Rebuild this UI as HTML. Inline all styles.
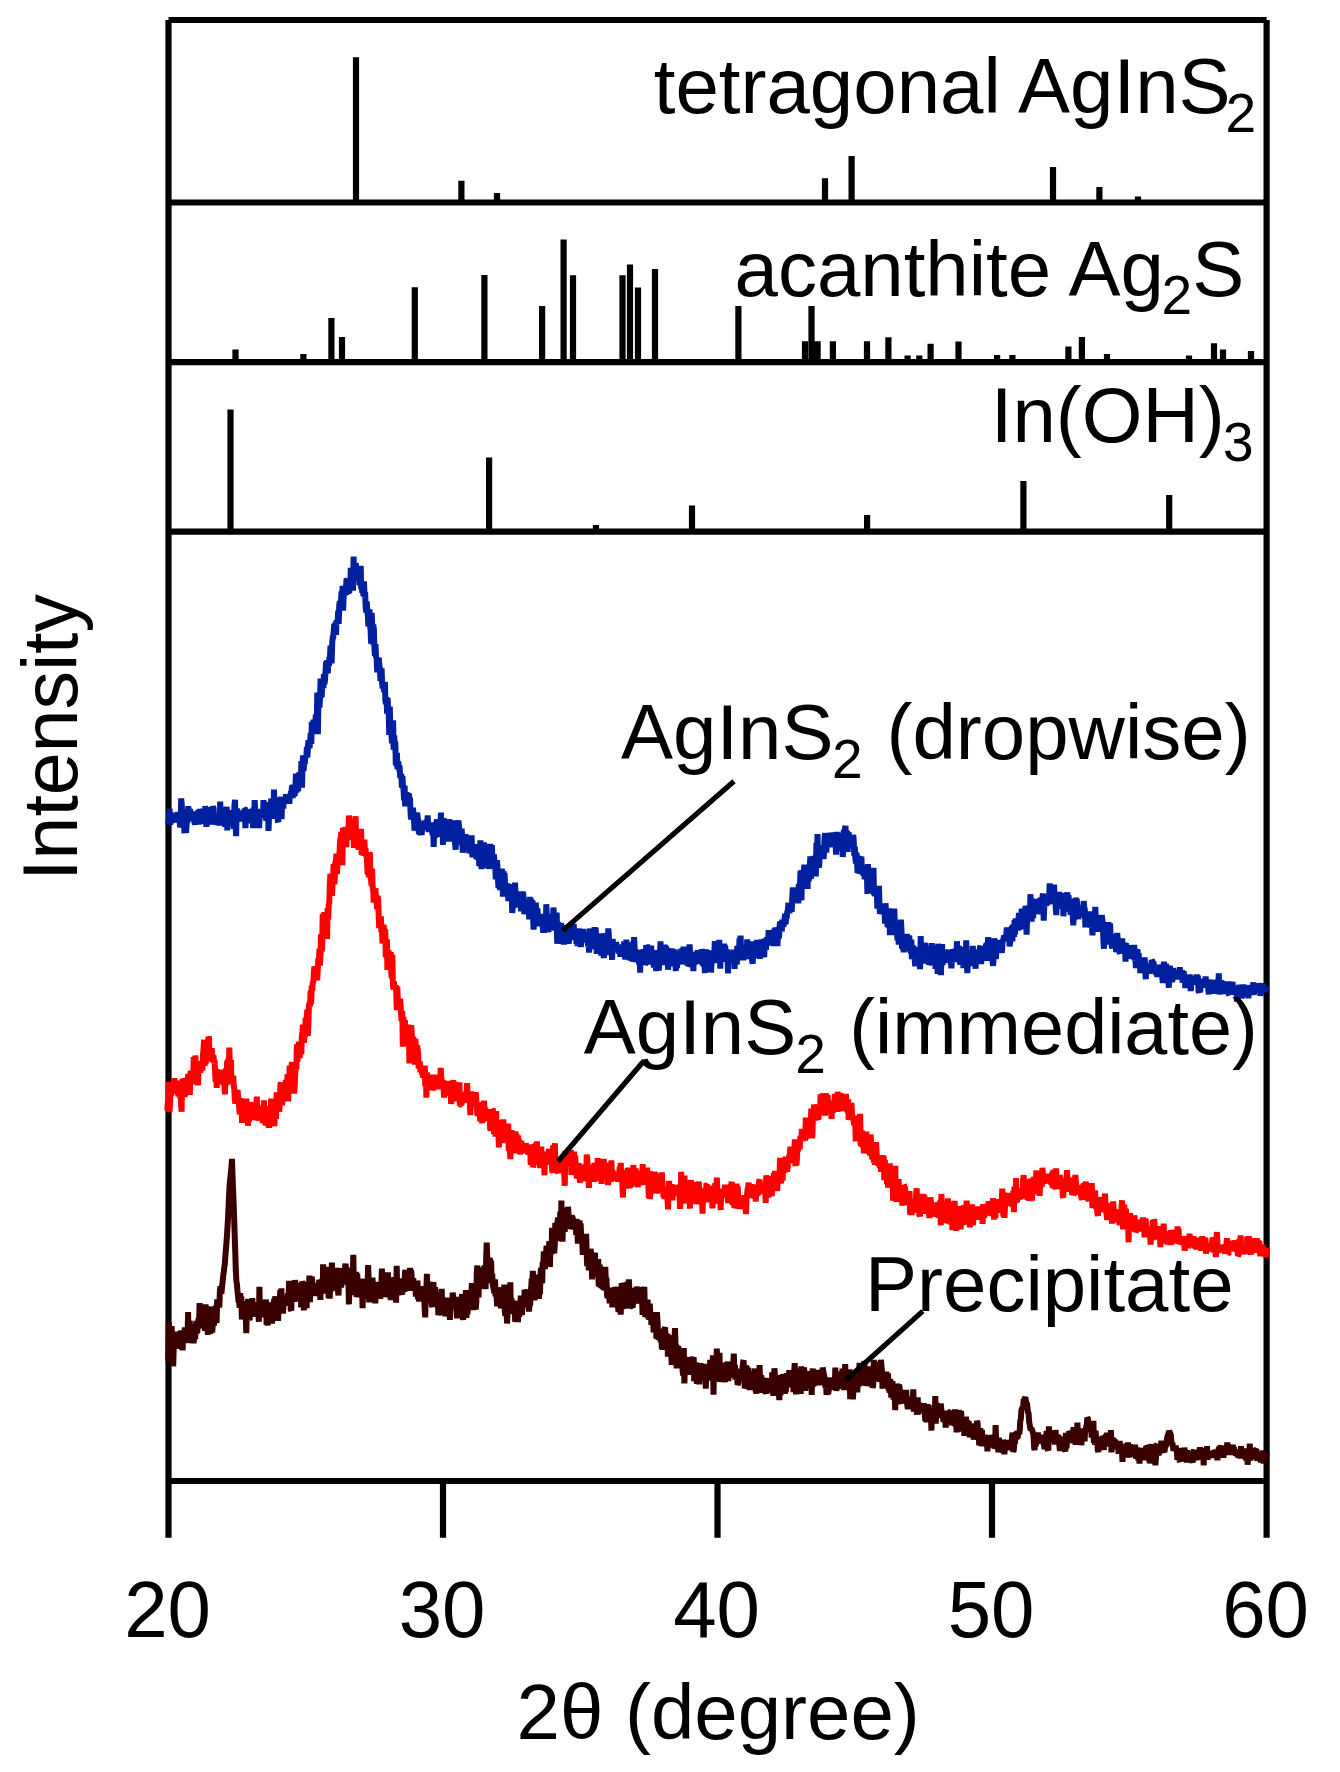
<!DOCTYPE html>
<html><head><meta charset="utf-8"><title>XRD</title>
<style>html,body{margin:0;padding:0;background:#fff;}svg{display:block;}</style>
</head><body>
<svg width="1340" height="1772" viewBox="0 0 1340 1772">
<rect width="1340" height="1772" fill="#fff"/>
<path d="M168.5,20 H1266.6 M165.4,202.5 H1269.7 M165.4,362.1 H1269.7 M165.4,531.7 H1269.7 M165.4,1481 H1269.7 M168.5,20 V1537.8 M1266.6,20 V1537.8 M443.0,1481 V1537.8 M717.5,1481 V1537.8 M992.0,1481 V1537.8" stroke="#000" stroke-width="6.2" fill="none"/>
<path d="M356.0,202.5 V57.2 M461.4,202.5 V180.7 M497.0,202.5 V193.0 M825.0,202.5 V178.2 M851.6,202.5 V156.1 M1053.0,202.5 V166.9 M1099.4,202.5 V187.0 M1138.0,202.5 V196.4 M235.5,362.1 V349.4 M303.4,362.1 V353.9 M331.4,362.1 V318.0 M342.0,362.1 V336.9 M414.8,362.1 V287.2 M484.4,362.1 V274.9 M542.1,362.1 V306.1 M563.6,362.1 V239.4 M573.0,362.1 V275.2 M622.5,362.1 V275.2 M630.0,362.1 V264.5 M638.0,362.1 V287.5 M655.0,362.1 V269.0 M738.4,362.1 V306.1 M805.0,362.1 V341.3 M811.5,362.1 V305.9 M817.6,362.1 V341.3 M832.9,362.1 V341.3 M867.0,362.1 V341.3 M888.4,362.1 V337.2 M907.6,362.1 V355.4 M919.3,362.1 V355.4 M930.6,362.1 V343.7 M958.5,362.1 V341.4 M997.1,362.1 V355.1 M1012.4,362.1 V355.1 M1068.4,362.1 V346.4 M1081.9,362.1 V336.9 M1107.0,362.1 V354.1 M1189.0,362.1 V355.4 M1214.0,362.1 V343.3 M1223.0,362.1 V349.4 M1251.0,362.1 V351.0 M230.5,531.7 V409.6 M489.1,531.7 V457.5 M595.9,531.7 V525.0 M692.0,531.7 V505.4 M867.1,531.7 V515.1 M1023.4,531.7 V481.0 M1169.2,531.7 V494.9" stroke="#000" stroke-width="6.2" fill="none"/>
<g fill="none" stroke-width="6" stroke-linejoin="miter" stroke-miterlimit="1.5" stroke-linecap="butt">
<path d="M168.0,820.5 L168.5,824.0 L169.1,820.4 L169.6,808.6 L170.2,824.6 L170.7,821.2 L171.3,814.1 L171.8,822.2 L172.4,820.6 L172.9,820.1 L173.5,818.2 L174.0,822.0 L174.6,812.7 L175.1,816.8 L175.7,814.5 L176.2,822.3 L176.8,818.3 L177.3,815.9 L177.9,812.3 L178.4,816.1 L179.0,818.1 L179.5,816.0 L180.1,827.4 L180.6,825.3 L181.2,798.4 L181.7,804.3 L182.3,816.7 L182.8,814.9 L183.4,819.5 L183.9,819.6 L184.5,833.3 L185.0,809.9 L185.6,815.3 L186.1,832.8 L186.7,822.7 L187.2,822.8 L187.8,814.3 L188.3,806.1 L188.9,819.2 L189.4,818.8 L190.0,809.1 L190.5,813.1 L191.1,817.5 L191.6,811.2 L192.2,817.3 L192.7,818.7 L193.3,818.3 L193.8,814.3 L194.4,822.3 L194.9,824.5 L195.5,820.3 L196.0,812.1 L196.5,823.3 L197.1,814.4 L197.6,824.4 L198.2,810.2 L198.7,824.6 L199.3,817.9 L199.8,809.0 L200.4,815.7 L200.9,818.4 L201.5,820.0 L202.0,810.9 L202.6,810.0 L203.1,819.4 L203.7,814.6 L204.2,819.7 L204.8,823.5 L205.3,806.0 L205.9,819.8 L206.4,826.8 L207.0,815.8 L207.5,812.1 L208.1,823.4 L208.6,819.7 L209.2,824.4 L209.7,815.4 L210.3,807.2 L210.8,817.1 L211.4,814.7 L211.9,823.5 L212.5,819.3 L213.0,806.1 L213.6,809.2 L214.1,824.3 L214.7,822.8 L215.2,813.2 L215.8,817.8 L216.3,821.1 L216.9,821.2 L217.4,824.2 L218.0,819.7 L218.5,817.1 L219.1,815.9 L219.6,825.5 L220.2,801.5 L220.7,816.8 L221.3,818.0 L221.8,807.5 L222.4,820.2 L222.9,813.1 L223.4,824.0 L224.0,816.9 L224.5,822.6 L225.1,826.6 L225.6,820.5 L226.2,811.4 L226.7,806.8 L227.3,830.4 L227.8,816.9 L228.4,812.7 L228.9,818.8 L229.5,816.3 L230.0,823.9 L230.6,817.9 L231.1,817.8 L231.7,812.5 L232.2,821.1 L232.8,810.2 L233.3,822.5 L233.9,828.7 L234.4,806.6 L235.0,799.8 L235.5,822.1 L236.1,836.1 L236.6,810.4 L237.2,808.6 L237.7,821.9 L238.3,811.5 L238.8,813.9 L239.4,815.1 L239.9,821.5 L240.5,814.7 L241.0,819.6 L241.6,816.3 L242.1,811.5 L242.7,815.3 L243.2,810.7 L243.8,817.6 L244.3,809.4 L244.9,809.6 L245.4,828.1 L246.0,817.2 L246.5,817.1 L247.1,821.2 L247.6,814.5 L248.2,815.9 L248.7,820.6 L249.3,819.6 L249.8,809.1 L250.4,823.4 L250.9,812.9 L251.4,809.3 L252.0,810.2 L252.5,813.7 L253.1,828.1 L253.6,807.5 L254.2,817.0 L254.7,800.1 L255.3,815.4 L255.8,821.7 L256.4,813.2 L256.9,810.2 L257.5,816.2 L258.0,819.4 L258.6,818.9 L259.1,828.1 L259.7,815.1 L260.2,809.1 L260.8,812.3 L261.3,812.4 L261.9,813.5 L262.4,812.3 L263.0,813.6 L263.5,800.0 L264.1,817.9 L264.6,807.5 L265.2,803.0 L265.7,815.9 L266.3,820.7 L266.8,814.6 L267.4,812.1 L267.9,804.0 L268.5,830.9 L269.0,816.9 L269.6,802.1 L270.1,804.6 L270.7,810.7 L271.2,798.7 L271.8,811.0 L272.3,806.3 L272.9,818.4 L273.4,816.4 L274.0,789.6 L274.5,809.4 L275.1,797.3 L275.6,816.7 L276.2,809.6 L276.7,812.1 L277.3,800.2 L277.8,820.8 L278.3,822.0 L278.9,799.3 L279.4,809.5 L280.0,801.6 L280.5,806.1 L281.1,796.8 L281.6,819.2 L282.2,798.4 L282.7,803.0 L283.3,808.5 L283.8,799.9 L284.4,802.6 L284.9,799.9 L285.5,802.4 L286.0,794.2 L286.6,798.8 L287.1,799.8 L287.7,798.1 L288.2,800.3 L288.8,797.0 L289.3,803.9 L289.9,795.4 L290.4,796.0 L291.0,791.4 L291.5,791.7 L292.1,785.5 L292.6,798.0 L293.2,784.7 L293.7,786.9 L294.3,794.5 L294.8,794.1 L295.4,787.1 L295.9,773.7 L296.5,791.9 L297.0,789.9 L297.6,775.8 L298.1,791.4 L298.7,777.8 L299.2,772.5 L299.8,780.6 L300.3,776.5 L300.9,777.8 L301.4,761.0 L302.0,787.6 L302.5,765.5 L303.1,755.4 L303.6,771.4 L304.2,761.0 L304.7,764.6 L305.3,756.7 L305.8,756.9 L306.3,757.4 L306.9,747.0 L307.4,757.4 L308.0,745.6 L308.5,740.4 L309.1,746.7 L309.6,748.0 L310.2,740.3 L310.7,733.0 L311.3,744.0 L311.8,721.7 L312.4,726.1 L312.9,733.6 L313.5,719.7 L314.0,729.9 L314.6,727.3 L315.1,733.8 L315.7,716.3 L316.2,715.6 L316.8,720.2 L317.3,692.5 L317.9,734.3 L318.4,700.7 L319.0,697.2 L319.5,707.7 L320.1,696.7 L320.6,678.5 L321.2,696.7 L321.7,696.8 L322.3,683.7 L322.8,683.3 L323.4,688.1 L323.9,674.2 L324.5,684.0 L325.0,680.1 L325.6,670.7 L326.1,661.6 L326.7,668.7 L327.2,660.1 L327.8,673.3 L328.3,662.9 L328.9,665.9 L329.4,658.1 L330.0,657.0 L330.5,645.7 L331.1,656.0 L331.6,663.4 L332.2,643.1 L332.7,637.4 L333.2,637.1 L333.8,630.1 L334.3,624.1 L334.9,628.5 L335.4,622.5 L336.0,635.0 L336.5,620.3 L337.1,620.7 L337.6,623.8 L338.2,610.6 L338.7,624.0 L339.3,604.5 L339.8,601.3 L340.4,603.5 L340.9,604.1 L341.5,591.3 L342.0,601.5 L342.6,585.8 L343.1,610.5 L343.7,596.2 L344.2,589.9 L344.8,586.1 L345.3,589.2 L345.9,589.1 L346.4,580.5 L347.0,580.1 L347.5,585.2 L348.1,581.1 L348.6,592.5 L349.2,592.9 L349.7,582.0 L350.3,584.7 L350.8,567.9 L351.4,584.1 L351.9,577.7 L352.5,581.6 L353.0,590.6 L353.6,556.5 L354.1,577.8 L354.7,565.5 L355.2,579.4 L355.8,562.9 L356.3,570.4 L356.9,577.0 L357.4,581.0 L358.0,576.8 L358.5,569.8 L359.1,572.4 L359.6,585.3 L360.2,578.4 L360.7,565.7 L361.2,589.2 L361.8,587.2 L362.3,592.8 L362.9,584.1 L363.4,595.9 L364.0,581.3 L364.5,597.2 L365.1,591.9 L365.6,605.9 L366.2,612.6 L366.7,601.5 L367.3,611.3 L367.8,614.7 L368.4,626.4 L368.9,624.1 L369.5,609.3 L370.0,625.7 L370.6,630.0 L371.1,643.7 L371.7,612.8 L372.2,624.6 L372.8,644.3 L373.3,624.7 L373.9,629.7 L374.4,648.1 L375.0,655.7 L375.5,644.2 L376.1,657.8 L376.6,657.2 L377.2,672.4 L377.7,661.7 L378.3,672.1 L378.8,657.7 L379.4,665.8 L379.9,668.4 L380.5,680.9 L381.0,678.0 L381.6,668.4 L382.1,683.2 L382.7,688.3 L383.2,685.0 L383.8,688.1 L384.3,692.0 L384.9,681.8 L385.4,700.8 L386.0,703.9 L386.5,697.1 L387.1,713.7 L387.6,698.1 L388.1,707.8 L388.7,711.1 L389.2,734.9 L389.8,706.6 L390.3,727.9 L390.9,734.4 L391.4,733.0 L392.0,743.4 L392.5,728.1 L393.1,720.4 L393.6,749.6 L394.2,735.5 L394.7,745.9 L395.3,741.5 L395.8,763.6 L396.4,764.4 L396.9,752.9 L397.5,769.1 L398.0,764.6 L398.6,764.5 L399.1,768.4 L399.7,768.4 L400.2,777.6 L400.8,777.3 L401.3,773.9 L401.9,787.7 L402.4,776.2 L403.0,786.0 L403.5,789.4 L404.1,800.4 L404.6,785.7 L405.2,806.4 L405.7,795.3 L406.3,794.3 L406.8,792.3 L407.4,804.6 L407.9,802.2 L408.5,794.3 L409.0,795.1 L409.6,800.8 L410.1,800.8 L410.7,815.9 L411.2,819.2 L411.8,816.1 L412.3,813.0 L412.9,807.8 L413.4,812.6 L414.0,820.0 L414.5,830.7 L415.1,822.2 L415.6,813.9 L416.1,817.4 L416.7,814.4 L417.2,812.9 L417.8,817.9 L418.3,821.3 L418.9,834.2 L419.4,821.2 L420.0,831.5 L420.5,835.1 L421.1,823.0 L421.6,834.9 L422.2,828.7 L422.7,820.8 L423.3,826.4 L423.8,825.1 L424.4,823.7 L424.9,824.5 L425.5,827.2 L426.0,829.5 L426.6,819.8 L427.1,826.4 L427.7,815.3 L428.2,828.7 L428.8,831.5 L429.3,828.2 L429.9,829.3 L430.4,831.7 L431.0,822.4 L431.5,825.7 L432.1,831.4 L432.6,835.2 L433.2,830.8 L433.7,847.0 L434.3,827.4 L434.8,835.5 L435.4,837.6 L435.9,827.2 L436.5,822.1 L437.0,819.5 L437.6,829.5 L438.1,836.6 L438.7,830.4 L439.2,829.7 L439.8,825.7 L440.3,832.7 L440.9,812.7 L441.4,830.3 L442.0,828.9 L442.5,818.5 L443.0,844.9 L443.6,818.5 L444.1,820.8 L444.7,820.0 L445.2,837.1 L445.8,822.4 L446.3,834.0 L446.9,833.4 L447.4,831.0 L448.0,819.4 L448.5,824.6 L449.1,841.6 L449.6,819.7 L450.2,823.1 L450.7,828.1 L451.3,835.4 L451.8,831.5 L452.4,835.6 L452.9,822.7 L453.5,838.0 L454.0,835.7 L454.6,820.2 L455.1,843.8 L455.7,849.8 L456.2,827.6 L456.8,834.2 L457.3,844.5 L457.9,823.8 L458.4,820.5 L459.0,826.0 L459.5,831.9 L460.1,832.2 L460.6,841.4 L461.2,839.4 L461.7,828.7 L462.3,842.5 L462.8,852.6 L463.4,848.1 L463.9,847.0 L464.5,840.3 L465.0,847.9 L465.6,834.0 L466.1,847.1 L466.7,841.4 L467.2,850.8 L467.8,846.4 L468.3,835.4 L468.9,844.9 L469.4,853.3 L470.0,836.6 L470.5,841.2 L471.0,840.2 L471.6,835.3 L472.1,853.8 L472.7,856.9 L473.2,853.6 L473.8,850.0 L474.3,848.3 L474.9,850.9 L475.4,844.2 L476.0,856.6 L476.5,858.2 L477.1,857.9 L477.6,847.6 L478.2,852.6 L478.7,851.3 L479.3,866.2 L479.8,854.9 L480.4,840.3 L480.9,857.6 L481.5,869.0 L482.0,860.8 L482.6,862.7 L483.1,857.1 L483.7,842.9 L484.2,844.7 L484.8,849.3 L485.3,858.1 L485.9,861.8 L486.4,865.1 L487.0,858.1 L487.5,868.1 L488.1,859.6 L488.6,857.1 L489.2,869.0 L489.7,856.6 L490.3,843.9 L490.8,856.6 L491.4,865.6 L491.9,845.0 L492.5,863.4 L493.0,864.1 L493.6,856.7 L494.1,856.8 L494.7,865.1 L495.2,865.3 L495.8,879.3 L496.3,873.7 L496.9,860.2 L497.4,866.3 L497.9,878.5 L498.5,888.0 L499.0,877.8 L499.6,878.1 L500.1,890.2 L500.7,877.3 L501.2,876.0 L501.8,868.8 L502.3,876.2 L502.9,896.6 L503.4,871.2 L504.0,882.5 L504.5,873.0 L505.1,884.9 L505.6,891.3 L506.2,883.9 L506.7,891.8 L507.3,892.5 L507.8,891.2 L508.4,901.1 L508.9,894.9 L509.5,887.7 L510.0,885.6 L510.6,885.0 L511.1,895.3 L511.7,890.1 L512.2,912.9 L512.8,907.1 L513.3,892.8 L513.9,892.6 L514.4,907.9 L515.0,882.6 L515.5,893.7 L516.1,904.4 L516.6,891.6 L517.2,895.4 L517.7,896.9 L518.3,904.9 L518.8,901.7 L519.4,904.3 L519.9,906.3 L520.5,902.9 L521.0,911.3 L521.6,898.6 L522.1,894.1 L522.7,892.2 L523.2,893.9 L523.8,902.2 L524.3,914.2 L524.9,908.6 L525.4,903.6 L525.9,900.8 L526.5,905.3 L527.0,906.8 L527.6,906.2 L528.1,900.5 L528.7,908.0 L529.2,919.3 L529.8,896.9 L530.3,911.4 L530.9,898.4 L531.4,915.6 L532.0,909.5 L532.5,900.4 L533.1,916.8 L533.6,929.7 L534.2,917.9 L534.7,925.8 L535.3,917.2 L535.8,902.5 L536.4,921.8 L536.9,915.6 L537.5,908.4 L538.0,924.9 L538.6,921.6 L539.1,916.1 L539.7,926.4 L540.2,914.2 L540.8,925.4 L541.3,914.3 L541.9,925.2 L542.4,913.8 L543.0,932.7 L543.5,924.1 L544.1,932.9 L544.6,917.0 L545.2,919.8 L545.7,929.5 L546.3,904.2 L546.8,916.5 L547.4,931.8 L547.9,928.1 L548.5,932.0 L549.0,923.1 L549.6,929.7 L550.1,920.7 L550.7,916.4 L551.2,914.4 L551.8,922.9 L552.3,923.2 L552.8,922.9 L553.4,907.6 L553.9,913.6 L554.5,924.3 L555.0,930.4 L555.6,924.5 L556.1,922.6 L556.7,912.6 L557.2,943.8 L557.8,921.7 L558.3,941.8 L558.9,941.2 L559.4,932.3 L560.0,926.5 L560.5,931.7 L561.1,922.8 L561.6,933.1 L562.2,931.5 L562.7,935.6 L563.3,938.8 L563.8,944.6 L564.4,929.7 L564.9,940.2 L565.5,927.4 L566.0,926.9 L566.6,929.1 L567.1,926.7 L567.7,940.9 L568.2,940.8 L568.8,943.5 L569.3,934.5 L569.9,936.9 L570.4,931.0 L571.0,927.1 L571.5,938.7 L572.1,937.6 L572.6,928.0 L573.2,940.2 L573.7,923.8 L574.3,935.1 L574.8,932.0 L575.4,932.9 L575.9,929.2 L576.5,943.8 L577.0,941.2 L577.6,945.8 L578.1,938.5 L578.7,928.5 L579.2,935.2 L579.8,929.6 L580.3,941.4 L580.8,946.9 L581.4,940.8 L581.9,934.4 L582.5,936.2 L583.0,940.5 L583.6,928.9 L584.1,940.4 L584.7,940.9 L585.2,935.8 L585.8,936.9 L586.3,941.2 L586.9,934.4 L587.4,934.6 L588.0,946.0 L588.5,942.3 L589.1,952.7 L589.6,934.1 L590.2,928.6 L590.7,948.0 L591.3,948.3 L591.8,936.5 L592.4,931.5 L592.9,941.7 L593.5,929.8 L594.0,939.9 L594.6,927.1 L595.1,940.9 L595.7,927.8 L596.2,941.2 L596.8,953.8 L597.3,941.3 L597.9,948.8 L598.4,939.0 L599.0,937.4 L599.5,933.3 L600.1,951.3 L600.6,943.7 L601.2,955.7 L601.7,936.2 L602.3,943.1 L602.8,945.3 L603.4,954.9 L603.9,957.9 L604.5,940.7 L605.0,937.4 L605.6,933.4 L606.1,955.1 L606.7,945.3 L607.2,941.5 L607.7,945.8 L608.3,928.4 L608.8,934.4 L609.4,953.2 L609.9,949.6 L610.5,948.0 L611.0,940.1 L611.6,951.4 L612.1,959.9 L612.7,939.0 L613.2,947.8 L613.8,944.8 L614.3,950.5 L614.9,948.2 L615.4,947.1 L616.0,942.1 L616.5,948.3 L617.1,944.2 L617.6,947.6 L618.2,948.3 L618.7,953.4 L619.3,944.9 L619.8,946.8 L620.4,956.7 L620.9,947.8 L621.5,947.6 L622.0,955.5 L622.6,951.5 L623.1,950.4 L623.7,951.4 L624.2,941.3 L624.8,953.3 L625.3,959.4 L625.9,954.4 L626.4,939.6 L627.0,952.5 L627.5,944.3 L628.1,949.2 L628.6,951.8 L629.2,942.7 L629.7,960.4 L630.3,950.8 L630.8,956.9 L631.4,955.9 L631.9,961.0 L632.5,960.0 L633.0,941.6 L633.6,952.2 L634.1,937.2 L634.7,949.1 L635.2,957.3 L635.7,958.7 L636.3,961.4 L636.8,949.9 L637.4,954.9 L637.9,953.4 L638.5,961.6 L639.0,963.9 L639.6,950.5 L640.1,972.7 L640.7,953.1 L641.2,950.7 L641.8,957.5 L642.3,958.7 L642.9,957.3 L643.4,949.1 L644.0,963.9 L644.5,954.1 L645.1,964.5 L645.6,963.6 L646.2,945.2 L646.7,947.3 L647.3,947.3 L647.8,956.0 L648.4,954.8 L648.9,956.3 L649.5,948.9 L650.0,957.6 L650.6,964.5 L651.1,945.6 L651.7,953.6 L652.2,956.7 L652.8,954.2 L653.3,953.8 L653.9,967.5 L654.4,964.2 L655.0,961.3 L655.5,950.2 L656.1,971.1 L656.6,958.2 L657.2,951.8 L657.7,953.5 L658.3,952.5 L658.8,970.6 L659.4,957.5 L659.9,956.6 L660.5,941.4 L661.0,961.4 L661.6,949.1 L662.1,948.7 L662.6,960.8 L663.2,950.7 L663.7,962.5 L664.3,964.6 L664.8,944.6 L665.4,956.1 L665.9,946.2 L666.5,956.7 L667.0,963.5 L667.6,947.9 L668.1,969.8 L668.7,955.3 L669.2,949.4 L669.8,956.8 L670.3,963.1 L670.9,948.3 L671.4,957.9 L672.0,948.5 L672.5,966.3 L673.1,959.2 L673.6,955.3 L674.2,965.4 L674.7,949.5 L675.3,955.7 L675.8,971.2 L676.4,957.7 L676.9,968.0 L677.5,960.1 L678.0,954.0 L678.6,957.2 L679.1,959.5 L679.7,956.2 L680.2,953.4 L680.8,953.7 L681.3,948.8 L681.9,959.7 L682.4,961.6 L683.0,964.0 L683.5,946.5 L684.1,964.3 L684.6,958.7 L685.2,949.0 L685.7,959.4 L686.3,964.3 L686.8,962.3 L687.4,963.6 L687.9,965.1 L688.5,964.7 L689.0,958.3 L689.6,944.3 L690.1,953.3 L690.6,960.9 L691.2,955.2 L691.7,963.1 L692.3,963.8 L692.8,958.7 L693.4,971.2 L693.9,951.7 L694.5,964.6 L695.0,955.0 L695.6,952.9 L696.1,962.2 L696.7,954.0 L697.2,964.0 L697.8,950.2 L698.3,958.3 L698.9,952.3 L699.4,956.4 L700.0,955.5 L700.5,950.3 L701.1,962.4 L701.6,949.4 L702.2,951.2 L702.7,963.9 L703.3,964.4 L703.8,962.3 L704.4,960.1 L704.9,973.2 L705.5,949.5 L706.0,952.7 L706.6,950.9 L707.1,963.8 L707.7,959.6 L708.2,965.1 L708.8,964.2 L709.3,956.0 L709.9,952.0 L710.4,950.8 L711.0,972.5 L711.5,964.0 L712.1,961.4 L712.6,955.1 L713.2,956.0 L713.7,955.0 L714.3,955.1 L714.8,941.0 L715.4,956.8 L715.9,954.6 L716.5,959.2 L717.0,958.6 L717.5,962.9 L718.1,957.0 L718.6,962.5 L719.2,939.8 L719.7,949.6 L720.3,968.7 L720.8,948.8 L721.4,955.1 L721.9,961.7 L722.5,951.0 L723.0,961.8 L723.6,947.2 L724.1,943.9 L724.7,947.8 L725.2,945.6 L725.8,956.5 L726.3,954.4 L726.9,958.7 L727.4,949.4 L728.0,973.5 L728.5,955.6 L729.1,955.8 L729.6,959.1 L730.2,954.3 L730.7,951.6 L731.3,956.4 L731.8,961.9 L732.4,960.1 L732.9,961.9 L733.5,951.7 L734.0,950.2 L734.6,968.8 L735.1,953.6 L735.7,958.4 L736.2,960.0 L736.8,964.5 L737.3,945.8 L737.9,951.6 L738.4,951.8 L739.0,952.6 L739.5,938.4 L740.1,953.8 L740.6,935.7 L741.2,956.3 L741.7,957.8 L742.3,958.2 L742.8,946.0 L743.4,960.4 L743.9,948.1 L744.5,945.6 L745.0,947.2 L745.5,948.0 L746.1,954.7 L746.6,959.0 L747.2,939.3 L747.7,949.5 L748.3,959.0 L748.8,954.1 L749.4,955.9 L749.9,942.2 L750.5,958.4 L751.0,941.3 L751.6,952.9 L752.1,960.5 L752.7,963.7 L753.2,954.4 L753.8,956.6 L754.3,946.4 L754.9,947.0 L755.4,957.8 L756.0,949.8 L756.5,948.7 L757.1,939.9 L757.6,950.1 L758.2,953.2 L758.7,943.4 L759.3,945.1 L759.8,958.8 L760.4,949.2 L760.9,945.7 L761.5,939.6 L762.0,942.7 L762.6,944.7 L763.1,955.3 L763.7,941.5 L764.2,957.4 L764.8,938.5 L765.3,941.9 L765.9,949.7 L766.4,941.9 L767.0,937.4 L767.5,941.8 L768.1,945.4 L768.6,930.0 L769.2,939.7 L769.7,940.2 L770.3,937.5 L770.8,944.7 L771.4,934.9 L771.9,935.7 L772.4,937.8 L773.0,942.0 L773.5,934.6 L774.1,946.2 L774.6,928.4 L775.2,943.2 L775.7,927.3 L776.3,931.6 L776.8,934.7 L777.4,946.0 L777.9,937.1 L778.5,927.1 L779.0,938.4 L779.6,926.6 L780.1,921.6 L780.7,929.6 L781.2,926.1 L781.8,931.4 L782.3,919.6 L782.9,925.5 L783.4,926.4 L784.0,922.9 L784.5,919.7 L785.1,913.9 L785.6,924.3 L786.2,917.2 L786.7,918.5 L787.3,910.7 L787.8,912.0 L788.4,902.7 L788.9,909.6 L789.5,913.3 L790.0,906.8 L790.6,911.1 L791.1,905.6 L791.7,912.0 L792.2,899.1 L792.8,887.3 L793.3,901.8 L793.9,896.4 L794.4,889.4 L795.0,900.6 L795.5,896.8 L796.1,897.2 L796.6,890.4 L797.2,893.4 L797.7,892.9 L798.3,903.3 L798.8,883.9 L799.4,888.0 L799.9,889.8 L800.4,873.3 L801.0,873.2 L801.5,900.4 L802.1,870.1 L802.6,886.6 L803.2,875.0 L803.7,874.7 L804.3,864.6 L804.8,871.8 L805.4,883.4 L805.9,866.2 L806.5,880.1 L807.0,877.0 L807.6,888.8 L808.1,869.2 L808.7,881.2 L809.2,877.5 L809.8,867.7 L810.3,856.4 L810.9,879.0 L811.4,856.4 L812.0,861.9 L812.5,871.0 L813.1,871.6 L813.6,855.8 L814.2,860.8 L814.7,858.0 L815.3,867.6 L815.8,876.4 L816.4,842.9 L816.9,862.6 L817.5,834.1 L818.0,854.4 L818.6,845.4 L819.1,867.9 L819.7,853.5 L820.2,846.1 L820.8,847.2 L821.3,845.9 L821.9,850.9 L822.4,847.7 L823.0,853.1 L823.5,859.0 L824.1,852.0 L824.6,837.0 L825.2,833.3 L825.7,839.3 L826.3,852.6 L826.8,842.0 L827.3,839.3 L827.9,845.0 L828.4,833.2 L829.0,835.0 L829.5,847.2 L830.1,840.8 L830.6,839.5 L831.2,845.0 L831.7,838.1 L832.3,837.1 L832.8,838.5 L833.4,846.3 L833.9,842.0 L834.5,832.4 L835.0,838.8 L835.6,845.7 L836.1,854.6 L836.7,831.9 L837.2,842.8 L837.8,838.2 L838.3,846.2 L838.9,843.2 L839.4,850.8 L840.0,843.5 L840.5,835.4 L841.1,835.3 L841.6,842.3 L842.2,842.1 L842.7,856.9 L843.3,851.4 L843.8,829.9 L844.4,841.2 L844.9,828.5 L845.5,825.9 L846.0,843.7 L846.6,842.2 L847.1,830.8 L847.7,851.8 L848.2,833.2 L848.8,832.7 L849.3,847.3 L849.9,845.0 L850.4,843.1 L851.0,844.7 L851.5,847.9 L852.1,846.1 L852.6,846.8 L853.2,834.9 L853.7,840.0 L854.3,855.6 L854.8,846.7 L855.3,857.2 L855.9,863.4 L856.4,852.6 L857.0,858.5 L857.5,873.0 L858.1,863.7 L858.6,873.4 L859.2,872.2 L859.7,867.5 L860.3,862.1 L860.8,857.7 L861.4,856.8 L861.9,869.8 L862.5,870.8 L863.0,867.1 L863.6,875.8 L864.1,865.8 L864.7,879.4 L865.2,872.3 L865.8,872.5 L866.3,873.6 L866.9,873.7 L867.4,893.9 L868.0,864.1 L868.5,878.3 L869.1,887.1 L869.6,884.0 L870.2,877.2 L870.7,893.3 L871.3,873.1 L871.8,872.2 L872.4,887.0 L872.9,873.2 L873.5,867.8 L874.0,893.6 L874.6,894.2 L875.1,895.5 L875.7,887.8 L876.2,894.3 L876.8,887.2 L877.3,908.8 L877.9,903.2 L878.4,904.3 L879.0,885.7 L879.5,907.5 L880.1,913.6 L880.6,912.4 L881.2,910.2 L881.7,905.3 L882.2,903.7 L882.8,911.7 L883.3,911.0 L883.9,910.9 L884.4,907.7 L885.0,923.6 L885.5,903.2 L886.1,912.8 L886.6,909.5 L887.2,922.6 L887.7,926.5 L888.3,926.1 L888.8,923.4 L889.4,908.2 L889.9,935.2 L890.5,924.5 L891.0,920.8 L891.6,922.7 L892.1,921.0 L892.7,927.6 L893.2,927.7 L893.8,923.7 L894.3,908.6 L894.9,928.0 L895.4,932.7 L896.0,934.0 L896.5,930.1 L897.1,935.4 L897.6,940.2 L898.2,930.2 L898.7,944.7 L899.3,921.0 L899.8,926.7 L900.4,929.9 L900.9,919.7 L901.5,930.6 L902.0,947.0 L902.6,947.6 L903.1,940.4 L903.7,952.3 L904.2,942.7 L904.8,938.3 L905.3,944.1 L905.9,942.2 L906.4,948.7 L907.0,933.9 L907.5,951.3 L908.1,941.9 L908.6,951.2 L909.2,935.5 L909.7,943.5 L910.2,947.3 L910.8,953.2 L911.3,939.5 L911.9,959.2 L912.4,951.7 L913.0,945.4 L913.5,957.5 L914.1,950.5 L914.6,958.0 L915.2,966.2 L915.7,956.3 L916.3,948.1 L916.8,949.2 L917.4,956.3 L917.9,954.6 L918.5,947.3 L919.0,948.6 L919.6,957.7 L920.1,969.1 L920.7,936.1 L921.2,958.7 L921.8,952.7 L922.3,959.5 L922.9,960.3 L923.4,955.0 L924.0,948.1 L924.5,945.8 L925.1,942.8 L925.6,963.6 L926.2,954.3 L926.7,952.1 L927.3,953.9 L927.8,946.9 L928.4,957.8 L928.9,964.6 L929.5,963.5 L930.0,945.5 L930.6,965.0 L931.1,950.9 L931.7,943.2 L932.2,947.8 L932.8,949.6 L933.3,956.0 L933.9,949.2 L934.4,946.1 L935.0,954.4 L935.5,969.0 L936.1,951.5 L936.6,959.4 L937.1,956.8 L937.7,974.0 L938.2,943.7 L938.8,963.7 L939.3,947.9 L939.9,952.5 L940.4,955.8 L941.0,975.2 L941.5,951.4 L942.1,944.0 L942.6,965.2 L943.2,951.0 L943.7,955.0 L944.3,956.5 L944.8,957.3 L945.4,955.6 L945.9,958.5 L946.5,959.4 L947.0,962.5 L947.6,954.0 L948.1,951.9 L948.7,949.8 L949.2,960.9 L949.8,956.7 L950.3,960.8 L950.9,960.7 L951.4,968.4 L952.0,958.6 L952.5,962.3 L953.1,949.3 L953.6,950.2 L954.2,955.3 L954.7,949.4 L955.3,962.1 L955.8,948.7 L956.4,958.1 L956.9,941.3 L957.5,950.4 L958.0,955.5 L958.6,956.1 L959.1,945.9 L959.7,958.7 L960.2,964.5 L960.8,962.4 L961.3,953.7 L961.9,954.2 L962.4,950.3 L963.0,962.4 L963.5,967.9 L964.1,954.8 L964.6,947.1 L965.1,959.8 L965.7,963.2 L966.2,940.4 L966.8,959.5 L967.3,973.1 L967.9,964.2 L968.4,962.4 L969.0,961.5 L969.5,965.9 L970.1,952.6 L970.6,953.3 L971.2,961.7 L971.7,954.3 L972.3,960.4 L972.8,945.8 L973.4,963.5 L973.9,964.0 L974.5,958.5 L975.0,959.2 L975.6,968.7 L976.1,950.6 L976.7,951.6 L977.2,950.3 L977.8,954.6 L978.3,950.5 L978.9,957.4 L979.4,952.7 L980.0,947.2 L980.5,946.2 L981.1,964.2 L981.6,955.2 L982.2,953.8 L982.7,955.0 L983.3,953.9 L983.8,959.1 L984.4,957.4 L984.9,949.3 L985.5,947.3 L986.0,945.1 L986.6,943.6 L987.1,960.9 L987.7,945.0 L988.2,937.3 L988.8,944.7 L989.3,944.6 L989.9,951.7 L990.4,943.1 L991.0,952.2 L991.5,950.8 L992.0,956.3 L992.6,962.0 L993.1,965.9 L993.7,955.7 L994.2,938.3 L994.8,943.0 L995.3,947.0 L995.9,959.0 L996.4,949.2 L997.0,952.5 L997.5,942.8 L998.1,947.7 L998.6,948.3 L999.2,939.9 L999.7,948.0 L1000.3,949.7 L1000.8,940.9 L1001.4,948.8 L1001.9,952.8 L1002.5,941.5 L1003.0,940.7 L1003.6,938.2 L1004.1,935.7 L1004.7,940.8 L1005.2,936.5 L1005.8,936.9 L1006.3,933.3 L1006.9,927.6 L1007.4,931.5 L1008.0,939.9 L1008.5,928.2 L1009.1,931.1 L1009.6,946.4 L1010.2,941.8 L1010.7,927.8 L1011.3,936.1 L1011.8,926.2 L1012.4,941.5 L1012.9,924.7 L1013.5,928.5 L1014.0,936.8 L1014.6,920.1 L1015.1,934.3 L1015.7,918.3 L1016.2,924.8 L1016.8,920.1 L1017.3,920.6 L1017.9,922.0 L1018.4,919.9 L1019.0,912.9 L1019.5,925.9 L1020.0,924.5 L1020.6,928.2 L1021.1,928.5 L1021.7,908.7 L1022.2,927.0 L1022.8,926.7 L1023.3,913.4 L1023.9,924.1 L1024.4,926.8 L1025.0,912.2 L1025.5,905.9 L1026.1,912.7 L1026.6,934.7 L1027.2,916.2 L1027.7,905.6 L1028.3,912.0 L1028.8,906.4 L1029.4,910.3 L1029.9,913.4 L1030.5,894.2 L1031.0,914.5 L1031.6,921.6 L1032.1,909.8 L1032.7,908.1 L1033.2,918.1 L1033.8,901.0 L1034.3,900.8 L1034.9,899.3 L1035.4,907.6 L1036.0,911.1 L1036.5,907.3 L1037.1,911.4 L1037.6,913.0 L1038.2,910.2 L1038.7,900.6 L1039.3,904.0 L1039.8,914.3 L1040.4,897.7 L1040.9,902.9 L1041.5,901.3 L1042.0,902.6 L1042.6,895.9 L1043.1,893.5 L1043.7,920.7 L1044.2,908.9 L1044.8,896.8 L1045.3,901.0 L1045.9,905.8 L1046.4,898.4 L1046.9,905.2 L1047.5,896.4 L1048.0,898.2 L1048.6,900.1 L1049.1,897.4 L1049.7,883.3 L1050.2,900.7 L1050.8,902.3 L1051.3,903.8 L1051.9,893.4 L1052.4,902.8 L1053.0,901.8 L1053.5,887.8 L1054.1,884.7 L1054.6,903.5 L1055.2,893.4 L1055.7,907.1 L1056.3,915.1 L1056.8,895.9 L1057.4,895.1 L1057.9,899.8 L1058.5,904.6 L1059.0,891.8 L1059.6,908.5 L1060.1,906.7 L1060.7,904.6 L1061.2,896.5 L1061.8,907.0 L1062.3,906.9 L1062.9,892.8 L1063.4,916.3 L1064.0,899.8 L1064.5,904.8 L1065.1,898.9 L1065.6,905.6 L1066.2,911.4 L1066.7,897.9 L1067.3,892.3 L1067.8,901.1 L1068.4,895.4 L1068.9,899.6 L1069.5,904.4 L1070.0,905.1 L1070.6,914.9 L1071.1,899.1 L1071.7,909.0 L1072.2,903.3 L1072.8,916.8 L1073.3,925.3 L1073.9,910.1 L1074.4,920.1 L1074.9,905.0 L1075.5,897.9 L1076.0,900.6 L1076.6,898.8 L1077.1,903.5 L1077.7,908.8 L1078.2,918.9 L1078.8,916.1 L1079.3,914.8 L1079.9,909.0 L1080.4,907.3 L1081.0,912.9 L1081.5,914.0 L1082.1,915.2 L1082.6,916.4 L1083.2,913.3 L1083.7,901.1 L1084.3,907.1 L1084.8,909.5 L1085.4,927.4 L1085.9,913.0 L1086.5,921.0 L1087.0,927.0 L1087.6,919.6 L1088.1,915.0 L1088.7,916.1 L1089.2,911.5 L1089.8,921.2 L1090.3,927.4 L1090.9,924.0 L1091.4,925.9 L1092.0,926.0 L1092.5,935.4 L1093.1,917.5 L1093.6,923.5 L1094.2,927.8 L1094.7,932.0 L1095.3,906.9 L1095.8,920.7 L1096.4,923.3 L1096.9,918.1 L1097.5,931.6 L1098.0,927.7 L1098.6,923.9 L1099.1,915.8 L1099.7,918.4 L1100.2,921.2 L1100.8,931.7 L1101.3,920.5 L1101.8,915.1 L1102.4,919.9 L1102.9,926.3 L1103.5,942.5 L1104.0,948.7 L1104.6,928.4 L1105.1,938.8 L1105.7,942.4 L1106.2,942.1 L1106.8,932.8 L1107.3,925.1 L1107.9,931.2 L1108.4,922.1 L1109.0,937.1 L1109.5,941.3 L1110.1,923.3 L1110.6,936.5 L1111.2,939.3 L1111.7,946.4 L1112.3,947.8 L1112.8,944.2 L1113.4,934.4 L1113.9,937.1 L1114.5,948.4 L1115.0,936.4 L1115.6,940.7 L1116.1,952.2 L1116.7,942.8 L1117.2,932.9 L1117.8,940.8 L1118.3,947.7 L1118.9,942.4 L1119.4,952.2 L1120.0,953.5 L1120.5,940.6 L1121.1,942.1 L1121.6,945.3 L1122.2,938.3 L1122.7,949.5 L1123.3,946.2 L1123.8,953.2 L1124.4,944.2 L1124.9,942.8 L1125.5,961.6 L1126.0,943.7 L1126.6,946.2 L1127.1,945.6 L1127.7,949.0 L1128.2,945.4 L1128.8,951.6 L1129.3,947.7 L1129.8,950.1 L1130.4,955.7 L1130.9,958.3 L1131.5,957.3 L1132.0,949.8 L1132.6,957.6 L1133.1,954.5 L1133.7,955.0 L1134.2,944.8 L1134.8,960.7 L1135.3,955.8 L1135.9,968.0 L1136.4,961.5 L1137.0,950.6 L1137.5,949.3 L1138.1,965.8 L1138.6,953.2 L1139.2,963.5 L1139.7,957.6 L1140.3,973.1 L1140.8,960.7 L1141.4,970.0 L1141.9,969.2 L1142.5,958.3 L1143.0,959.5 L1143.6,971.2 L1144.1,962.3 L1144.7,957.3 L1145.2,970.4 L1145.8,979.2 L1146.3,963.5 L1146.9,972.7 L1147.4,963.5 L1148.0,973.1 L1148.5,963.7 L1149.1,973.6 L1149.6,969.2 L1150.2,965.2 L1150.7,968.1 L1151.3,963.7 L1151.8,960.4 L1152.4,961.1 L1152.9,967.3 L1153.5,961.5 L1154.0,970.6 L1154.6,971.4 L1155.1,971.2 L1155.7,965.8 L1156.2,969.2 L1156.7,969.0 L1157.3,977.0 L1157.8,964.8 L1158.4,967.5 L1158.9,968.6 L1159.5,969.3 L1160.0,966.1 L1160.6,967.0 L1161.1,976.6 L1161.7,967.3 L1162.2,976.4 L1162.8,982.9 L1163.3,978.8 L1163.9,961.6 L1164.4,976.4 L1165.0,974.9 L1165.5,975.5 L1166.1,963.6 L1166.6,977.1 L1167.2,967.0 L1167.7,980.4 L1168.3,979.3 L1168.8,987.7 L1169.4,971.7 L1169.9,965.7 L1170.5,979.9 L1171.0,979.1 L1171.6,972.5 L1172.1,982.1 L1172.7,978.6 L1173.2,968.1 L1173.8,973.3 L1174.3,973.0 L1174.9,975.0 L1175.4,976.7 L1176.0,972.2 L1176.5,975.0 L1177.1,979.3 L1177.6,976.0 L1178.2,975.1 L1178.7,975.1 L1179.3,976.4 L1179.8,967.1 L1180.4,978.1 L1180.9,972.1 L1181.5,978.1 L1182.0,970.2 L1182.6,982.7 L1183.1,979.3 L1183.7,971.3 L1184.2,979.6 L1184.7,974.7 L1185.3,988.0 L1185.8,981.5 L1186.4,975.0 L1186.9,980.4 L1187.5,979.3 L1188.0,985.7 L1188.6,981.6 L1189.1,982.6 L1189.7,974.4 L1190.2,984.3 L1190.8,991.0 L1191.3,983.8 L1191.9,980.5 L1192.4,981.7 L1193.0,976.1 L1193.5,982.0 L1194.1,975.7 L1194.6,981.6 L1195.2,979.6 L1195.7,977.5 L1196.3,984.7 L1196.8,974.5 L1197.4,981.9 L1197.9,975.6 L1198.5,991.5 L1199.0,992.4 L1199.6,986.9 L1200.1,992.2 L1200.7,985.9 L1201.2,985.7 L1201.8,981.1 L1202.3,978.9 L1202.9,984.1 L1203.4,980.9 L1204.0,981.6 L1204.5,987.5 L1205.1,983.4 L1205.6,976.4 L1206.2,983.2 L1206.7,980.6 L1207.3,983.1 L1207.8,979.3 L1208.4,990.7 L1208.9,994.3 L1209.5,979.6 L1210.0,988.3 L1210.6,988.1 L1211.1,980.1 L1211.6,985.9 L1212.2,992.4 L1212.7,989.7 L1213.3,993.6 L1213.8,980.1 L1214.4,982.3 L1214.9,987.4 L1215.5,987.8 L1216.0,986.3 L1216.6,984.4 L1217.1,984.4 L1217.7,983.5 L1218.2,988.7 L1218.8,973.4 L1219.3,994.5 L1219.9,984.3 L1220.4,980.1 L1221.0,989.7 L1221.5,980.4 L1222.1,989.1 L1222.6,985.4 L1223.2,990.3 L1223.7,991.3 L1224.3,993.8 L1224.8,985.4 L1225.4,986.4 L1225.9,987.9 L1226.5,981.3 L1227.0,990.9 L1227.6,988.8 L1228.1,981.9 L1228.7,994.0 L1229.2,994.7 L1229.8,982.1 L1230.3,991.1 L1230.9,994.3 L1231.4,992.4 L1232.0,983.9 L1232.5,982.0 L1233.1,988.0 L1233.6,986.3 L1234.2,988.6 L1234.7,988.2 L1235.3,991.1 L1235.8,986.1 L1236.4,988.0 L1236.9,1001.7 L1237.5,988.2 L1238.0,992.3 L1238.6,990.2 L1239.1,989.9 L1239.6,984.7 L1240.2,991.4 L1240.7,988.8 L1241.3,992.8 L1241.8,998.5 L1242.4,990.0 L1242.9,992.7 L1243.5,984.5 L1244.0,989.8 L1244.6,996.4 L1245.1,989.0 L1245.7,986.4 L1246.2,990.3 L1246.8,988.6 L1247.3,988.3 L1247.9,987.6 L1248.4,998.3 L1249.0,985.3 L1249.5,987.3 L1250.1,986.6 L1250.6,994.7 L1251.2,987.8 L1251.7,995.0 L1252.3,989.8 L1252.8,988.9 L1253.4,982.4 L1253.9,994.4 L1254.5,991.3 L1255.0,990.7 L1255.6,988.3 L1256.1,986.9 L1256.7,983.1 L1257.2,992.9 L1257.8,989.9 L1258.3,987.0 L1258.9,985.8 L1259.4,989.1 L1260.0,988.1 L1260.5,995.8 L1261.1,991.9 L1261.6,985.8 L1262.2,983.5 L1262.7,987.3 L1263.3,984.3 L1263.8,988.6 L1264.4,990.0 L1264.9,991.0 L1265.5,990.0 L1266.0,987.3 L1266.5,990.8" stroke="#00209f"/>
<path d="M167.3,1110.5 L167.8,1102.2 L168.4,1100.3 L168.9,1081.7 L169.5,1112.1 L170.0,1104.2 L170.6,1090.0 L171.1,1095.8 L171.7,1090.0 L172.2,1082.8 L172.8,1094.1 L173.3,1083.4 L173.9,1082.6 L174.4,1078.3 L175.0,1087.4 L175.5,1082.4 L176.1,1088.3 L176.6,1080.7 L177.2,1087.9 L177.7,1081.4 L178.3,1096.4 L178.8,1092.7 L179.4,1095.3 L179.9,1097.4 L180.5,1087.7 L181.0,1103.1 L181.6,1111.7 L182.1,1081.5 L182.7,1079.5 L183.2,1080.0 L183.8,1097.1 L184.3,1090.2 L184.9,1096.3 L185.4,1092.3 L186.0,1087.0 L186.5,1086.7 L187.1,1082.6 L187.6,1090.0 L188.2,1073.8 L188.7,1078.7 L189.3,1083.3 L189.8,1094.8 L190.4,1074.1 L190.9,1071.0 L191.5,1074.1 L192.0,1084.4 L192.6,1073.3 L193.1,1083.8 L193.7,1057.1 L194.2,1078.8 L194.8,1076.4 L195.3,1055.5 L195.8,1067.3 L196.4,1075.8 L196.9,1067.1 L197.5,1074.5 L198.0,1085.4 L198.6,1069.1 L199.1,1065.0 L199.7,1061.3 L200.2,1072.6 L200.8,1066.1 L201.3,1066.5 L201.9,1066.8 L202.4,1070.5 L203.0,1054.9 L203.5,1049.0 L204.1,1039.7 L204.6,1065.9 L205.2,1054.9 L205.7,1064.3 L206.3,1051.2 L206.8,1044.2 L207.4,1052.6 L207.9,1047.0 L208.5,1036.6 L209.0,1038.2 L209.6,1060.3 L210.1,1051.1 L210.7,1053.3 L211.2,1049.7 L211.8,1048.2 L212.3,1062.4 L212.9,1057.2 L213.4,1055.0 L214.0,1062.9 L214.5,1059.9 L215.1,1071.4 L215.6,1081.7 L216.2,1068.8 L216.7,1087.9 L217.3,1072.8 L217.8,1080.5 L218.4,1074.1 L218.9,1080.2 L219.5,1083.6 L220.0,1081.2 L220.6,1080.4 L221.1,1079.4 L221.7,1077.0 L222.2,1069.7 L222.7,1078.6 L223.3,1082.4 L223.8,1085.0 L224.4,1081.6 L224.9,1094.4 L225.5,1076.1 L226.0,1068.5 L226.6,1085.2 L227.1,1060.8 L227.7,1075.0 L228.2,1058.5 L228.8,1067.2 L229.3,1047.5 L229.9,1068.4 L230.4,1062.5 L231.0,1059.7 L231.5,1083.8 L232.1,1080.2 L232.6,1078.0 L233.2,1075.6 L233.7,1085.3 L234.3,1088.6 L234.8,1099.8 L235.4,1103.5 L235.9,1092.8 L236.5,1094.6 L237.0,1095.5 L237.6,1089.9 L238.1,1096.7 L238.7,1101.4 L239.2,1108.3 L239.8,1114.1 L240.3,1098.2 L240.9,1109.7 L241.4,1102.7 L242.0,1123.0 L242.5,1106.9 L243.1,1111.7 L243.6,1100.9 L244.2,1102.4 L244.7,1110.9 L245.3,1106.8 L245.8,1113.1 L246.4,1098.6 L246.9,1116.5 L247.5,1104.8 L248.0,1125.8 L248.6,1110.6 L249.1,1121.7 L249.7,1102.2 L250.2,1116.5 L250.7,1106.2 L251.3,1109.3 L251.8,1113.3 L252.4,1110.6 L252.9,1115.2 L253.5,1118.9 L254.0,1118.2 L254.6,1112.4 L255.1,1102.4 L255.7,1106.8 L256.2,1111.6 L256.8,1096.5 L257.3,1119.0 L257.9,1111.2 L258.4,1111.1 L259.0,1120.5 L259.5,1118.5 L260.1,1115.3 L260.6,1106.0 L261.2,1116.6 L261.7,1117.2 L262.3,1107.9 L262.8,1123.2 L263.4,1119.4 L263.9,1100.3 L264.5,1117.0 L265.0,1106.4 L265.6,1125.5 L266.1,1123.2 L266.7,1108.5 L267.2,1109.9 L267.8,1117.3 L268.3,1114.3 L268.9,1127.8 L269.4,1121.4 L270.0,1113.0 L270.5,1119.4 L271.1,1098.7 L271.6,1116.7 L272.2,1120.7 L272.7,1112.3 L273.3,1107.2 L273.8,1116.2 L274.4,1126.2 L274.9,1111.5 L275.5,1100.1 L276.0,1119.2 L276.6,1092.3 L277.1,1109.9 L277.6,1100.4 L278.2,1111.3 L278.7,1096.1 L279.3,1111.9 L279.8,1102.6 L280.4,1085.5 L280.9,1082.3 L281.5,1094.1 L282.0,1105.4 L282.6,1095.0 L283.1,1093.3 L283.7,1089.8 L284.2,1096.4 L284.8,1092.6 L285.3,1090.8 L285.9,1079.9 L286.4,1095.9 L287.0,1096.2 L287.5,1074.4 L288.1,1101.5 L288.6,1088.1 L289.2,1077.7 L289.7,1065.6 L290.3,1084.5 L290.8,1082.6 L291.4,1072.5 L291.9,1062.0 L292.5,1083.7 L293.0,1069.2 L293.6,1069.0 L294.1,1093.5 L294.7,1086.7 L295.2,1075.7 L295.8,1062.8 L296.3,1069.7 L296.9,1044.3 L297.4,1061.7 L298.0,1052.7 L298.5,1046.5 L299.1,1042.0 L299.6,1057.9 L300.2,1052.1 L300.7,1050.5 L301.3,1054.3 L301.8,1037.4 L302.4,1031.7 L302.9,1024.6 L303.5,1035.2 L304.0,1042.9 L304.6,1032.3 L305.1,1037.1 L305.6,1017.8 L306.2,1021.9 L306.7,1016.7 L307.3,1009.8 L307.8,1035.9 L308.4,1024.0 L308.9,1006.1 L309.5,1002.9 L310.0,1006.3 L310.6,990.5 L311.1,1004.7 L311.7,985.6 L312.2,990.8 L312.8,981.5 L313.3,983.2 L313.9,972.1 L314.4,966.5 L315.0,969.2 L315.5,968.9 L316.1,969.5 L316.6,969.9 L317.2,980.4 L317.7,970.9 L318.3,958.3 L318.8,964.6 L319.4,948.8 L319.9,965.7 L320.5,954.7 L321.0,934.4 L321.6,951.1 L322.1,948.8 L322.7,913.8 L323.2,928.7 L323.8,928.4 L324.3,912.2 L324.9,917.3 L325.4,915.4 L326.0,925.7 L326.5,920.7 L327.1,939.0 L327.6,908.1 L328.2,919.3 L328.7,905.1 L329.3,902.6 L329.8,885.1 L330.4,873.9 L330.9,880.8 L331.5,891.6 L332.0,895.8 L332.5,883.5 L333.1,879.2 L333.6,864.0 L334.2,884.0 L334.7,880.5 L335.3,861.4 L335.8,864.1 L336.4,853.6 L336.9,874.4 L337.5,862.9 L338.0,856.5 L338.6,859.3 L339.1,857.9 L339.7,848.6 L340.2,839.4 L340.8,837.6 L341.3,831.9 L341.9,850.7 L342.4,865.3 L343.0,827.8 L343.5,843.2 L344.1,844.3 L344.6,829.9 L345.2,839.6 L345.7,826.8 L346.3,847.1 L346.8,829.8 L347.4,835.4 L347.9,839.9 L348.5,828.8 L349.0,815.5 L349.6,826.3 L350.1,837.3 L350.7,828.7 L351.2,831.2 L351.8,819.4 L352.3,831.0 L352.9,836.6 L353.4,830.5 L354.0,848.0 L354.5,828.8 L355.1,821.4 L355.6,816.4 L356.2,842.2 L356.7,831.3 L357.3,841.8 L357.8,837.8 L358.4,849.7 L358.9,847.5 L359.5,833.4 L360.0,840.5 L360.5,849.1 L361.1,828.8 L361.6,854.6 L362.2,853.8 L362.7,853.5 L363.3,844.4 L363.8,850.9 L364.4,839.6 L364.9,852.2 L365.5,848.1 L366.0,856.6 L366.6,853.9 L367.1,863.6 L367.7,874.5 L368.2,854.2 L368.8,877.3 L369.3,853.1 L369.9,854.0 L370.4,875.3 L371.0,879.0 L371.5,885.5 L372.1,868.7 L372.6,885.8 L373.2,890.0 L373.7,902.7 L374.3,892.1 L374.8,900.0 L375.4,888.1 L375.9,897.3 L376.5,896.9 L377.0,909.5 L377.6,895.9 L378.1,899.3 L378.7,914.5 L379.2,928.2 L379.8,917.9 L380.3,919.8 L380.9,916.4 L381.4,932.2 L382.0,929.8 L382.5,943.5 L383.1,933.6 L383.6,924.8 L384.2,931.3 L384.7,930.5 L385.3,931.1 L385.8,957.1 L386.4,955.6 L386.9,939.4 L387.4,969.9 L388.0,958.4 L388.5,950.0 L389.1,965.1 L389.6,963.6 L390.2,960.0 L390.7,952.1 L391.3,973.1 L391.8,978.3 L392.4,954.8 L392.9,986.3 L393.5,989.2 L394.0,981.6 L394.6,989.3 L395.1,988.0 L395.7,985.3 L396.2,992.0 L396.8,1010.1 L397.3,986.6 L397.9,1004.5 L398.4,1006.3 L399.0,1000.4 L399.5,1005.2 L400.1,998.7 L400.6,1006.0 L401.2,1016.3 L401.7,1020.8 L402.3,1011.1 L402.8,1046.6 L403.4,1017.0 L403.9,1024.9 L404.5,1023.1 L405.0,1023.1 L405.6,1040.2 L406.1,1025.3 L406.7,1043.5 L407.2,1043.2 L407.8,1024.5 L408.3,1045.1 L408.9,1031.0 L409.4,1063.5 L410.0,1036.1 L410.5,1032.5 L411.1,1025.1 L411.6,1032.2 L412.2,1040.0 L412.7,1037.7 L413.3,1037.1 L413.8,1043.2 L414.4,1048.9 L414.9,1064.6 L415.4,1038.9 L416.0,1050.3 L416.5,1048.5 L417.1,1045.4 L417.6,1049.1 L418.2,1053.7 L418.7,1068.6 L419.3,1062.7 L419.8,1061.5 L420.4,1072.2 L420.9,1071.1 L421.5,1068.6 L422.0,1074.4 L422.6,1065.6 L423.1,1077.6 L423.7,1077.0 L424.2,1070.9 L424.8,1065.6 L425.3,1086.7 L425.9,1076.7 L426.4,1097.6 L427.0,1072.5 L427.5,1084.4 L428.1,1075.4 L428.6,1081.2 L429.2,1086.2 L429.7,1074.7 L430.3,1080.4 L430.8,1082.6 L431.4,1082.5 L431.9,1086.3 L432.5,1089.8 L433.0,1088.6 L433.6,1084.6 L434.1,1080.3 L434.7,1074.7 L435.2,1077.9 L435.8,1079.7 L436.3,1089.0 L436.9,1081.4 L437.4,1075.1 L438.0,1089.3 L438.5,1078.9 L439.1,1079.4 L439.6,1083.7 L440.2,1089.2 L440.7,1067.9 L441.3,1077.8 L441.8,1087.7 L442.3,1083.9 L442.9,1080.4 L443.4,1083.1 L444.0,1097.7 L444.5,1084.2 L445.1,1093.1 L445.6,1094.0 L446.2,1085.0 L446.7,1091.9 L447.3,1085.4 L447.8,1084.5 L448.4,1080.9 L448.9,1096.0 L449.5,1086.8 L450.0,1085.9 L450.6,1081.9 L451.1,1104.0 L451.7,1096.3 L452.2,1090.0 L452.8,1086.1 L453.3,1080.1 L453.9,1093.9 L454.4,1094.2 L455.0,1081.8 L455.5,1101.2 L456.1,1098.6 L456.6,1085.9 L457.2,1089.2 L457.7,1090.5 L458.3,1095.1 L458.8,1093.1 L459.4,1082.3 L459.9,1105.7 L460.5,1097.4 L461.0,1104.7 L461.6,1104.9 L462.1,1094.3 L462.7,1098.6 L463.2,1101.8 L463.8,1102.4 L464.3,1095.7 L464.9,1092.6 L465.4,1097.7 L466.0,1091.8 L466.5,1093.9 L467.1,1083.2 L467.6,1099.4 L468.2,1091.6 L468.7,1095.6 L469.3,1099.8 L469.8,1103.0 L470.3,1115.1 L470.9,1103.1 L471.4,1091.5 L472.0,1103.4 L472.5,1098.5 L473.1,1106.3 L473.6,1098.7 L474.2,1099.0 L474.7,1101.0 L475.3,1100.6 L475.8,1092.1 L476.4,1101.2 L476.9,1106.5 L477.5,1116.0 L478.0,1105.3 L478.6,1105.2 L479.1,1112.7 L479.7,1112.9 L480.2,1121.2 L480.8,1114.2 L481.3,1110.3 L481.9,1120.9 L482.4,1122.9 L483.0,1108.5 L483.5,1113.8 L484.1,1100.7 L484.6,1111.0 L485.2,1107.7 L485.7,1113.2 L486.3,1111.8 L486.8,1114.7 L487.4,1115.7 L487.9,1120.7 L488.5,1119.3 L489.0,1114.0 L489.6,1109.1 L490.1,1128.4 L490.7,1130.3 L491.2,1116.9 L491.8,1125.0 L492.3,1110.1 L492.9,1110.4 L493.4,1120.5 L494.0,1134.0 L494.5,1115.9 L495.1,1118.0 L495.6,1136.6 L496.2,1111.2 L496.7,1130.6 L497.2,1130.0 L497.8,1125.4 L498.3,1128.8 L498.9,1147.4 L499.4,1120.2 L500.0,1126.8 L500.5,1127.9 L501.1,1125.1 L501.6,1120.8 L502.2,1143.1 L502.7,1133.5 L503.3,1119.4 L503.8,1127.7 L504.4,1136.5 L504.9,1137.0 L505.5,1123.9 L506.0,1134.5 L506.6,1137.6 L507.1,1139.1 L507.7,1139.5 L508.2,1123.5 L508.8,1151.0 L509.3,1139.3 L509.9,1151.4 L510.4,1159.1 L511.0,1137.6 L511.5,1130.1 L512.1,1145.9 L512.6,1138.6 L513.2,1136.9 L513.7,1133.0 L514.3,1153.5 L514.8,1138.1 L515.4,1131.4 L515.9,1138.8 L516.5,1133.9 L517.0,1144.0 L517.6,1140.1 L518.1,1135.7 L518.7,1148.4 L519.2,1139.5 L519.8,1150.0 L520.3,1154.3 L520.9,1142.7 L521.4,1141.0 L522.0,1147.6 L522.5,1153.1 L523.1,1146.8 L523.6,1148.2 L524.2,1147.4 L524.7,1150.2 L525.2,1153.0 L525.8,1143.5 L526.3,1145.5 L526.9,1149.7 L527.4,1144.9 L528.0,1151.2 L528.5,1154.5 L529.1,1150.7 L529.6,1146.8 L530.2,1145.9 L530.7,1164.9 L531.3,1158.8 L531.8,1144.5 L532.4,1146.9 L532.9,1167.3 L533.5,1165.0 L534.0,1155.2 L534.6,1162.9 L535.1,1143.6 L535.7,1154.8 L536.2,1160.4 L536.8,1141.4 L537.3,1149.5 L537.9,1161.2 L538.4,1164.0 L539.0,1151.5 L539.5,1158.1 L540.1,1168.0 L540.6,1153.5 L541.2,1146.7 L541.7,1156.3 L542.3,1154.0 L542.8,1166.6 L543.4,1158.4 L543.9,1151.5 L544.5,1175.3 L545.0,1154.1 L545.6,1161.4 L546.1,1163.1 L546.7,1164.1 L547.2,1159.8 L547.8,1163.0 L548.3,1158.5 L548.9,1148.9 L549.4,1158.0 L550.0,1158.4 L550.5,1158.8 L551.1,1161.4 L551.6,1156.1 L552.1,1170.7 L552.7,1172.7 L553.2,1145.4 L553.8,1161.9 L554.3,1156.9 L554.9,1143.2 L555.4,1165.6 L556.0,1158.4 L556.5,1160.4 L557.1,1158.7 L557.6,1171.7 L558.2,1173.1 L558.7,1166.3 L559.3,1169.7 L559.8,1164.0 L560.4,1166.2 L560.9,1160.0 L561.5,1165.7 L562.0,1160.4 L562.6,1168.4 L563.1,1171.8 L563.7,1168.1 L564.2,1174.6 L564.8,1185.8 L565.3,1150.7 L565.9,1166.3 L566.4,1162.1 L567.0,1163.0 L567.5,1156.5 L568.1,1167.0 L568.6,1164.8 L569.2,1162.1 L569.7,1165.0 L570.3,1162.6 L570.8,1149.9 L571.4,1175.0 L571.9,1165.0 L572.5,1160.3 L573.0,1169.6 L573.6,1162.6 L574.1,1151.7 L574.7,1174.2 L575.2,1155.6 L575.8,1166.5 L576.3,1169.1 L576.9,1178.3 L577.4,1177.3 L578.0,1170.0 L578.5,1163.4 L579.1,1166.1 L579.6,1177.3 L580.1,1182.6 L580.7,1173.7 L581.2,1165.1 L581.8,1177.6 L582.3,1167.5 L582.9,1167.4 L583.4,1168.5 L584.0,1175.1 L584.5,1172.9 L585.1,1178.4 L585.6,1180.8 L586.2,1175.2 L586.7,1154.6 L587.3,1159.4 L587.8,1173.2 L588.4,1171.6 L588.9,1188.0 L589.5,1172.1 L590.0,1171.3 L590.6,1179.4 L591.1,1180.3 L591.7,1170.9 L592.2,1176.2 L592.8,1164.6 L593.3,1166.1 L593.9,1182.0 L594.4,1162.9 L595.0,1180.0 L595.5,1178.3 L596.1,1179.0 L596.6,1180.2 L597.2,1177.7 L597.7,1158.1 L598.3,1166.5 L598.8,1169.5 L599.4,1180.7 L599.9,1165.9 L600.5,1169.0 L601.0,1171.6 L601.6,1183.9 L602.1,1163.8 L602.7,1164.4 L603.2,1178.9 L603.8,1158.8 L604.3,1176.7 L604.9,1171.0 L605.4,1162.8 L606.0,1171.2 L606.5,1167.0 L607.0,1175.5 L607.6,1177.0 L608.1,1185.1 L608.7,1174.2 L609.2,1175.0 L609.8,1170.1 L610.3,1174.1 L610.9,1181.9 L611.4,1160.3 L612.0,1179.1 L612.5,1170.4 L613.1,1174.8 L613.6,1176.7 L614.2,1180.5 L614.7,1176.1 L615.3,1171.7 L615.8,1177.0 L616.4,1175.0 L616.9,1173.6 L617.5,1176.8 L618.0,1181.8 L618.6,1176.6 L619.1,1177.0 L619.7,1166.6 L620.2,1175.3 L620.8,1162.9 L621.3,1181.8 L621.9,1169.9 L622.4,1186.3 L623.0,1197.5 L623.5,1174.4 L624.1,1187.1 L624.6,1180.6 L625.2,1173.8 L625.7,1171.9 L626.3,1182.3 L626.8,1188.5 L627.4,1181.2 L627.9,1167.8 L628.5,1171.2 L629.0,1177.0 L629.6,1188.4 L630.1,1180.5 L630.7,1180.7 L631.2,1187.1 L631.8,1176.7 L632.3,1177.5 L632.9,1176.7 L633.4,1165.0 L634.0,1181.2 L634.5,1180.7 L635.0,1184.7 L635.6,1168.9 L636.1,1171.6 L636.7,1184.2 L637.2,1179.6 L637.8,1187.2 L638.3,1170.9 L638.9,1178.5 L639.4,1172.0 L640.0,1179.1 L640.5,1173.2 L641.1,1180.6 L641.6,1184.5 L642.2,1181.8 L642.7,1164.1 L643.3,1184.3 L643.8,1181.0 L644.4,1170.5 L644.9,1171.9 L645.5,1178.6 L646.0,1183.0 L646.6,1175.9 L647.1,1167.6 L647.7,1181.7 L648.2,1181.2 L648.8,1197.9 L649.3,1171.1 L649.9,1199.0 L650.4,1193.7 L651.0,1183.5 L651.5,1193.6 L652.1,1182.5 L652.6,1189.2 L653.2,1177.1 L653.7,1183.2 L654.3,1175.6 L654.8,1171.8 L655.4,1181.5 L655.9,1179.0 L656.5,1188.2 L657.0,1193.5 L657.6,1183.4 L658.1,1185.3 L658.7,1186.5 L659.2,1173.3 L659.8,1187.6 L660.3,1186.1 L660.9,1185.9 L661.4,1178.6 L661.9,1172.5 L662.5,1185.3 L663.0,1189.6 L663.6,1197.3 L664.1,1196.1 L664.7,1198.7 L665.2,1191.1 L665.8,1197.1 L666.3,1187.5 L666.9,1193.8 L667.4,1196.3 L668.0,1209.3 L668.5,1191.8 L669.1,1180.9 L669.6,1200.2 L670.2,1184.6 L670.7,1190.0 L671.3,1188.4 L671.8,1184.0 L672.4,1200.3 L672.9,1195.1 L673.5,1186.4 L674.0,1191.4 L674.6,1187.9 L675.1,1195.6 L675.7,1188.5 L676.2,1185.8 L676.8,1186.7 L677.3,1188.3 L677.9,1193.6 L678.4,1185.0 L679.0,1191.1 L679.5,1195.0 L680.1,1208.8 L680.6,1198.2 L681.2,1171.9 L681.7,1188.5 L682.3,1189.3 L682.8,1194.5 L683.4,1203.5 L683.9,1197.5 L684.5,1175.6 L685.0,1194.4 L685.6,1193.0 L686.1,1195.2 L686.7,1202.0 L687.2,1184.3 L687.8,1200.1 L688.3,1180.3 L688.9,1192.6 L689.4,1194.9 L689.9,1208.7 L690.5,1187.1 L691.0,1180.0 L691.6,1197.1 L692.1,1187.4 L692.7,1203.5 L693.2,1187.1 L693.8,1185.9 L694.3,1201.2 L694.9,1192.8 L695.4,1199.4 L696.0,1182.0 L696.5,1204.3 L697.1,1188.3 L697.6,1198.5 L698.2,1185.5 L698.7,1181.7 L699.3,1191.1 L699.8,1194.2 L700.4,1204.4 L700.9,1195.7 L701.5,1198.4 L702.0,1198.1 L702.6,1213.6 L703.1,1187.7 L703.7,1202.7 L704.2,1192.7 L704.8,1195.7 L705.3,1190.0 L705.9,1202.4 L706.4,1185.1 L707.0,1184.7 L707.5,1192.8 L708.1,1186.1 L708.6,1199.6 L709.2,1201.2 L709.7,1189.2 L710.3,1200.3 L710.8,1189.9 L711.4,1194.4 L711.9,1194.8 L712.5,1208.3 L713.0,1194.9 L713.6,1188.4 L714.1,1188.4 L714.7,1203.6 L715.2,1183.1 L715.8,1191.7 L716.3,1192.4 L716.8,1177.6 L717.4,1191.9 L717.9,1202.5 L718.5,1197.0 L719.0,1188.9 L719.6,1200.4 L720.1,1199.2 L720.7,1210.0 L721.2,1190.2 L721.8,1192.8 L722.3,1196.0 L722.9,1194.8 L723.4,1196.5 L724.0,1195.2 L724.5,1191.1 L725.1,1184.7 L725.6,1192.2 L726.2,1186.4 L726.7,1188.9 L727.3,1192.6 L727.8,1200.3 L728.4,1202.8 L728.9,1189.4 L729.5,1199.1 L730.0,1202.7 L730.6,1196.7 L731.1,1185.4 L731.7,1181.8 L732.2,1203.0 L732.8,1203.9 L733.3,1199.4 L733.9,1189.9 L734.4,1207.9 L735.0,1206.2 L735.5,1197.2 L736.1,1196.0 L736.6,1183.6 L737.2,1203.1 L737.7,1186.2 L738.3,1202.6 L738.8,1203.0 L739.4,1198.5 L739.9,1209.2 L740.5,1195.6 L741.0,1202.2 L741.6,1203.7 L742.1,1199.9 L742.7,1195.1 L743.2,1207.0 L743.8,1201.2 L744.3,1196.9 L744.8,1197.1 L745.4,1199.0 L745.9,1214.1 L746.5,1198.2 L747.0,1195.4 L747.6,1189.2 L748.1,1187.8 L748.7,1182.6 L749.2,1197.5 L749.8,1195.7 L750.3,1187.9 L750.9,1184.3 L751.4,1192.3 L752.0,1190.5 L752.5,1184.4 L753.1,1195.8 L753.6,1194.3 L754.2,1192.6 L754.7,1198.2 L755.3,1187.7 L755.8,1201.7 L756.4,1184.5 L756.9,1195.0 L757.5,1195.6 L758.0,1189.0 L758.6,1193.2 L759.1,1181.3 L759.7,1179.6 L760.2,1188.7 L760.8,1184.7 L761.3,1194.0 L761.9,1189.8 L762.4,1193.8 L763.0,1191.5 L763.5,1190.5 L764.1,1189.5 L764.6,1185.9 L765.2,1185.1 L765.7,1203.0 L766.3,1175.2 L766.8,1186.5 L767.4,1195.0 L767.9,1190.6 L768.5,1197.6 L769.0,1191.2 L769.6,1177.7 L770.1,1184.3 L770.7,1176.0 L771.2,1193.2 L771.7,1196.1 L772.3,1181.7 L772.8,1188.6 L773.4,1181.1 L773.9,1173.0 L774.5,1179.9 L775.0,1171.0 L775.6,1178.1 L776.1,1183.5 L776.7,1186.9 L777.2,1190.8 L777.8,1178.1 L778.3,1181.9 L778.9,1182.9 L779.4,1183.5 L780.0,1157.9 L780.5,1172.5 L781.1,1183.4 L781.6,1167.7 L782.2,1177.1 L782.7,1180.5 L783.3,1158.4 L783.8,1170.4 L784.4,1172.6 L784.9,1169.7 L785.5,1156.7 L786.0,1170.1 L786.6,1162.0 L787.1,1171.6 L787.7,1167.5 L788.2,1158.7 L788.8,1163.3 L789.3,1155.5 L789.9,1154.4 L790.4,1146.6 L791.0,1156.1 L791.5,1163.3 L792.1,1156.9 L792.6,1154.8 L793.2,1149.1 L793.7,1148.9 L794.3,1157.8 L794.8,1139.3 L795.4,1166.2 L795.9,1148.6 L796.5,1165.1 L797.0,1156.3 L797.6,1142.9 L798.1,1151.1 L798.7,1146.5 L799.2,1147.3 L799.7,1149.1 L800.3,1137.8 L800.8,1136.4 L801.4,1137.1 L801.9,1128.9 L802.5,1136.7 L803.0,1139.7 L803.6,1139.0 L804.1,1137.7 L804.7,1132.3 L805.2,1140.7 L805.8,1117.7 L806.3,1129.8 L806.9,1129.5 L807.4,1138.2 L808.0,1135.5 L808.5,1135.7 L809.1,1128.7 L809.6,1135.2 L810.2,1119.1 L810.7,1126.6 L811.3,1108.7 L811.8,1137.8 L812.4,1136.0 L812.9,1118.0 L813.5,1115.2 L814.0,1104.6 L814.6,1108.2 L815.1,1120.2 L815.7,1117.2 L816.2,1106.0 L816.8,1112.8 L817.3,1110.6 L817.9,1118.6 L818.4,1119.6 L819.0,1111.5 L819.5,1113.3 L820.1,1111.5 L820.6,1094.3 L821.2,1111.2 L821.7,1108.4 L822.3,1113.9 L822.8,1093.2 L823.4,1113.2 L823.9,1101.9 L824.5,1108.6 L825.0,1115.6 L825.6,1094.2 L826.1,1095.1 L826.6,1112.8 L827.2,1095.7 L827.7,1096.8 L828.3,1108.6 L828.8,1102.0 L829.4,1109.3 L829.9,1105.2 L830.5,1102.3 L831.0,1109.8 L831.6,1118.8 L832.1,1100.6 L832.7,1112.6 L833.2,1109.9 L833.8,1102.0 L834.3,1104.8 L834.9,1094.0 L835.4,1096.6 L836.0,1103.7 L836.5,1101.3 L837.1,1111.9 L837.6,1091.7 L838.2,1099.7 L838.7,1097.1 L839.3,1101.0 L839.8,1111.4 L840.4,1092.9 L840.9,1109.1 L841.5,1098.0 L842.0,1100.2 L842.6,1110.6 L843.1,1100.7 L843.7,1108.8 L844.2,1105.4 L844.8,1104.1 L845.3,1103.6 L845.9,1093.8 L846.4,1102.4 L847.0,1110.5 L847.5,1111.7 L848.1,1099.4 L848.6,1119.8 L849.2,1117.4 L849.7,1103.6 L850.3,1106.6 L850.8,1119.7 L851.4,1102.9 L851.9,1111.8 L852.5,1118.3 L853.0,1118.9 L853.6,1120.5 L854.1,1125.1 L854.6,1116.9 L855.2,1120.5 L855.7,1141.5 L856.3,1115.5 L856.8,1124.1 L857.4,1129.6 L857.9,1124.7 L858.5,1140.5 L859.0,1132.6 L859.6,1139.1 L860.1,1113.7 L860.7,1144.1 L861.2,1144.5 L861.8,1130.3 L862.3,1147.1 L862.9,1139.7 L863.4,1145.6 L864.0,1153.2 L864.5,1140.5 L865.1,1132.5 L865.6,1141.0 L866.2,1131.8 L866.7,1136.2 L867.3,1137.2 L867.8,1138.3 L868.4,1153.7 L868.9,1151.9 L869.5,1139.1 L870.0,1155.7 L870.6,1134.5 L871.1,1143.3 L871.7,1148.1 L872.2,1159.3 L872.8,1156.5 L873.3,1155.1 L873.9,1162.5 L874.4,1158.7 L875.0,1164.6 L875.5,1148.5 L876.1,1142.2 L876.6,1152.9 L877.2,1163.5 L877.7,1159.8 L878.3,1165.5 L878.8,1164.8 L879.4,1164.3 L879.9,1167.7 L880.5,1156.7 L881.0,1171.8 L881.5,1156.4 L882.1,1164.4 L882.6,1155.2 L883.2,1171.2 L883.7,1156.1 L884.3,1180.3 L884.8,1159.8 L885.4,1173.3 L885.9,1171.2 L886.5,1166.4 L887.0,1184.1 L887.6,1171.9 L888.1,1187.7 L888.7,1169.2 L889.2,1172.0 L889.8,1163.2 L890.3,1183.9 L890.9,1187.3 L891.4,1182.6 L892.0,1180.3 L892.5,1175.1 L893.1,1200.8 L893.6,1189.2 L894.2,1170.2 L894.7,1182.5 L895.3,1165.8 L895.8,1198.0 L896.4,1201.5 L896.9,1198.3 L897.5,1187.7 L898.0,1184.4 L898.6,1179.1 L899.1,1194.0 L899.7,1185.3 L900.2,1188.6 L900.8,1187.2 L901.3,1190.2 L901.9,1199.4 L902.4,1205.6 L903.0,1195.2 L903.5,1194.8 L904.1,1187.4 L904.6,1187.2 L905.2,1188.9 L905.7,1203.0 L906.3,1199.2 L906.8,1204.7 L907.4,1201.5 L907.9,1196.4 L908.5,1191.3 L909.0,1197.8 L909.5,1191.2 L910.1,1214.7 L910.6,1203.3 L911.2,1199.1 L911.7,1215.1 L912.3,1199.4 L912.8,1205.8 L913.4,1201.1 L913.9,1204.8 L914.5,1200.1 L915.0,1206.0 L915.6,1212.4 L916.1,1194.6 L916.7,1188.3 L917.2,1212.4 L917.8,1204.6 L918.3,1209.5 L918.9,1201.9 L919.4,1214.4 L920.0,1216.4 L920.5,1196.4 L921.1,1209.0 L921.6,1200.5 L922.2,1193.9 L922.7,1202.8 L923.3,1208.9 L923.8,1196.0 L924.4,1196.7 L924.9,1213.8 L925.5,1205.9 L926.0,1208.6 L926.6,1198.4 L927.1,1202.0 L927.7,1207.4 L928.2,1208.1 L928.8,1208.0 L929.3,1218.0 L929.9,1208.6 L930.4,1197.3 L931.0,1202.0 L931.5,1207.7 L932.1,1216.9 L932.6,1203.9 L933.2,1206.1 L933.7,1208.8 L934.3,1204.4 L934.8,1203.8 L935.4,1208.0 L935.9,1216.5 L936.4,1213.3 L937.0,1208.3 L937.5,1213.2 L938.1,1202.1 L938.6,1217.7 L939.2,1216.2 L939.7,1213.4 L940.3,1200.5 L940.8,1225.4 L941.4,1194.0 L941.9,1205.3 L942.5,1205.9 L943.0,1217.0 L943.6,1202.4 L944.1,1214.2 L944.7,1211.7 L945.2,1211.0 L945.8,1218.9 L946.3,1222.8 L946.9,1216.1 L947.4,1211.7 L948.0,1198.4 L948.5,1223.8 L949.1,1212.0 L949.6,1201.7 L950.2,1215.4 L950.7,1224.3 L951.3,1213.7 L951.8,1207.0 L952.4,1230.2 L952.9,1219.3 L953.5,1217.7 L954.0,1222.4 L954.6,1200.9 L955.1,1215.1 L955.7,1214.4 L956.2,1230.9 L956.8,1211.8 L957.3,1211.9 L957.9,1206.2 L958.4,1210.0 L959.0,1214.2 L959.5,1217.4 L960.1,1214.3 L960.6,1229.2 L961.2,1219.0 L961.7,1219.9 L962.3,1224.9 L962.8,1219.9 L963.4,1212.1 L963.9,1205.2 L964.4,1218.1 L965.0,1210.0 L965.5,1224.6 L966.1,1210.5 L966.6,1200.6 L967.2,1215.9 L967.7,1222.9 L968.3,1214.3 L968.8,1216.9 L969.4,1216.7 L969.9,1227.3 L970.5,1217.7 L971.0,1215.3 L971.6,1211.3 L972.1,1204.3 L972.7,1224.8 L973.2,1223.0 L973.8,1208.7 L974.3,1219.2 L974.9,1217.1 L975.4,1212.3 L976.0,1212.6 L976.5,1219.8 L977.1,1206.4 L977.6,1210.9 L978.2,1213.9 L978.7,1214.2 L979.3,1212.8 L979.8,1215.6 L980.4,1217.6 L980.9,1207.9 L981.5,1214.4 L982.0,1210.2 L982.6,1223.9 L983.1,1204.0 L983.7,1211.8 L984.2,1217.8 L984.8,1210.9 L985.3,1210.3 L985.9,1208.7 L986.4,1214.2 L987.0,1203.9 L987.5,1211.0 L988.1,1210.6 L988.6,1201.1 L989.2,1212.7 L989.7,1207.4 L990.3,1212.4 L990.8,1215.9 L991.3,1212.1 L991.9,1201.6 L992.4,1211.5 L993.0,1198.2 L993.5,1203.6 L994.1,1219.7 L994.6,1208.1 L995.2,1218.2 L995.7,1206.1 L996.3,1207.1 L996.8,1199.1 L997.4,1212.7 L997.9,1204.6 L998.5,1209.8 L999.0,1208.2 L999.6,1208.5 L1000.1,1206.7 L1000.7,1203.9 L1001.2,1203.8 L1001.8,1198.8 L1002.3,1188.6 L1002.9,1206.1 L1003.4,1216.6 L1004.0,1209.5 L1004.5,1217.8 L1005.1,1204.7 L1005.6,1194.4 L1006.2,1193.9 L1006.7,1205.5 L1007.3,1202.4 L1007.8,1198.5 L1008.4,1204.5 L1008.9,1192.9 L1009.5,1202.3 L1010.0,1196.3 L1010.6,1199.0 L1011.1,1205.9 L1011.7,1196.2 L1012.2,1206.5 L1012.8,1205.9 L1013.3,1190.8 L1013.9,1212.2 L1014.4,1186.6 L1015.0,1194.4 L1015.5,1200.0 L1016.1,1178.1 L1016.6,1201.4 L1017.2,1201.8 L1017.7,1192.5 L1018.3,1194.9 L1018.8,1194.1 L1019.3,1190.7 L1019.9,1199.6 L1020.4,1188.8 L1021.0,1190.9 L1021.5,1193.6 L1022.1,1196.8 L1022.6,1198.4 L1023.2,1179.5 L1023.7,1175.2 L1024.3,1188.6 L1024.8,1188.9 L1025.4,1181.2 L1025.9,1191.0 L1026.5,1193.0 L1027.0,1191.0 L1027.6,1199.8 L1028.1,1180.2 L1028.7,1187.5 L1029.2,1201.0 L1029.8,1191.7 L1030.3,1178.5 L1030.9,1187.7 L1031.4,1194.5 L1032.0,1200.7 L1032.5,1190.2 L1033.1,1193.6 L1033.6,1176.9 L1034.2,1182.9 L1034.7,1193.1 L1035.3,1177.4 L1035.8,1183.7 L1036.4,1170.5 L1036.9,1194.4 L1037.5,1182.6 L1038.0,1187.4 L1038.6,1172.4 L1039.1,1173.6 L1039.7,1195.9 L1040.2,1180.2 L1040.8,1178.5 L1041.3,1185.9 L1041.9,1186.1 L1042.4,1167.8 L1043.0,1174.7 L1043.5,1181.9 L1044.1,1181.4 L1044.6,1183.7 L1045.2,1177.9 L1045.7,1178.8 L1046.2,1182.2 L1046.8,1175.5 L1047.3,1174.3 L1047.9,1176.5 L1048.4,1180.5 L1049.0,1179.5 L1049.5,1177.2 L1050.1,1179.0 L1050.6,1180.5 L1051.2,1183.2 L1051.7,1183.6 L1052.3,1171.9 L1052.8,1188.2 L1053.4,1169.8 L1053.9,1185.3 L1054.5,1176.4 L1055.0,1185.7 L1055.6,1189.2 L1056.1,1168.3 L1056.7,1186.1 L1057.2,1183.8 L1057.8,1178.7 L1058.3,1184.8 L1058.9,1178.6 L1059.4,1183.1 L1060.0,1174.8 L1060.5,1188.0 L1061.1,1186.8 L1061.6,1188.0 L1062.2,1178.3 L1062.7,1196.2 L1063.3,1197.3 L1063.8,1182.9 L1064.4,1180.7 L1064.9,1181.0 L1065.5,1188.9 L1066.0,1191.5 L1066.6,1179.1 L1067.1,1170.2 L1067.7,1188.0 L1068.2,1184.7 L1068.8,1186.3 L1069.3,1189.0 L1069.9,1177.6 L1070.4,1186.1 L1071.0,1183.7 L1071.5,1188.7 L1072.1,1194.8 L1072.6,1186.4 L1073.2,1180.5 L1073.7,1195.5 L1074.2,1192.0 L1074.8,1185.9 L1075.3,1174.9 L1075.9,1181.9 L1076.4,1189.4 L1077.0,1192.6 L1077.5,1185.4 L1078.1,1192.6 L1078.6,1185.3 L1079.2,1187.2 L1079.7,1194.3 L1080.3,1189.0 L1080.8,1192.2 L1081.4,1197.8 L1081.9,1199.9 L1082.5,1188.2 L1083.0,1190.9 L1083.6,1183.7 L1084.1,1184.2 L1084.7,1195.9 L1085.2,1190.5 L1085.8,1181.5 L1086.3,1198.6 L1086.9,1189.3 L1087.4,1193.4 L1088.0,1198.9 L1088.5,1199.1 L1089.1,1196.3 L1089.6,1183.1 L1090.2,1201.4 L1090.7,1193.6 L1091.3,1188.2 L1091.8,1183.0 L1092.4,1208.1 L1092.9,1200.2 L1093.5,1200.4 L1094.0,1204.2 L1094.6,1199.8 L1095.1,1190.3 L1095.7,1205.8 L1096.2,1208.4 L1096.8,1205.4 L1097.3,1212.9 L1097.9,1215.8 L1098.4,1197.3 L1099.0,1200.2 L1099.5,1209.8 L1100.1,1205.2 L1100.6,1205.8 L1101.1,1211.2 L1101.7,1210.3 L1102.2,1202.4 L1102.8,1206.7 L1103.3,1201.3 L1103.9,1205.2 L1104.4,1199.2 L1105.0,1193.7 L1105.5,1204.2 L1106.1,1204.0 L1106.6,1214.7 L1107.2,1219.8 L1107.7,1209.4 L1108.3,1212.9 L1108.8,1205.5 L1109.4,1203.9 L1109.9,1208.7 L1110.5,1209.1 L1111.0,1213.5 L1111.6,1212.6 L1112.1,1223.7 L1112.7,1211.1 L1113.2,1201.5 L1113.8,1214.2 L1114.3,1209.1 L1114.9,1215.5 L1115.4,1222.2 L1116.0,1210.3 L1116.5,1214.6 L1117.1,1219.1 L1117.6,1209.3 L1118.2,1217.7 L1118.7,1220.4 L1119.3,1222.6 L1119.8,1224.9 L1120.4,1221.6 L1120.9,1220.8 L1121.5,1208.8 L1122.0,1200.3 L1122.6,1212.5 L1123.1,1229.4 L1123.7,1220.7 L1124.2,1204.7 L1124.8,1217.7 L1125.3,1223.5 L1125.9,1208.6 L1126.4,1225.7 L1127.0,1214.2 L1127.5,1229.7 L1128.1,1223.0 L1128.6,1242.3 L1129.1,1213.9 L1129.7,1225.1 L1130.2,1213.2 L1130.8,1231.4 L1131.3,1224.5 L1131.9,1230.1 L1132.4,1224.6 L1133.0,1216.1 L1133.5,1219.8 L1134.1,1215.9 L1134.6,1217.4 L1135.2,1225.6 L1135.7,1232.0 L1136.3,1230.7 L1136.8,1228.5 L1137.4,1221.4 L1137.9,1228.8 L1138.5,1219.7 L1139.0,1227.0 L1139.6,1231.3 L1140.1,1224.6 L1140.7,1222.9 L1141.2,1223.3 L1141.8,1230.5 L1142.3,1224.6 L1142.9,1217.5 L1143.4,1224.4 L1144.0,1220.3 L1144.5,1237.4 L1145.1,1227.9 L1145.6,1218.4 L1146.2,1230.0 L1146.7,1233.1 L1147.3,1231.2 L1147.8,1226.6 L1148.4,1230.1 L1148.9,1231.2 L1149.5,1236.1 L1150.0,1232.2 L1150.6,1244.6 L1151.1,1228.9 L1151.7,1240.3 L1152.2,1230.9 L1152.8,1220.2 L1153.3,1223.8 L1153.9,1220.0 L1154.4,1220.8 L1155.0,1239.5 L1155.5,1227.9 L1156.0,1236.0 L1156.6,1226.9 L1157.1,1232.6 L1157.7,1226.2 L1158.2,1238.4 L1158.8,1231.6 L1159.3,1230.6 L1159.9,1232.5 L1160.4,1247.2 L1161.0,1236.7 L1161.5,1239.2 L1162.1,1226.7 L1162.6,1230.5 L1163.2,1236.5 L1163.7,1223.5 L1164.3,1243.2 L1164.8,1236.9 L1165.4,1235.3 L1165.9,1234.4 L1166.5,1234.4 L1167.0,1232.9 L1167.6,1244.5 L1168.1,1240.4 L1168.7,1243.9 L1169.2,1234.9 L1169.8,1231.6 L1170.3,1245.1 L1170.9,1230.0 L1171.4,1233.8 L1172.0,1241.8 L1172.5,1244.1 L1173.1,1230.2 L1173.6,1236.5 L1174.2,1238.4 L1174.7,1237.7 L1175.3,1233.6 L1175.8,1242.8 L1176.4,1235.9 L1176.9,1237.8 L1177.5,1226.3 L1178.0,1238.9 L1178.6,1228.5 L1179.1,1243.9 L1179.7,1242.9 L1180.2,1237.3 L1180.8,1241.4 L1181.3,1241.2 L1181.9,1239.9 L1182.4,1242.9 L1183.0,1240.2 L1183.5,1238.3 L1184.0,1236.6 L1184.6,1250.7 L1185.1,1242.4 L1185.7,1241.3 L1186.2,1245.6 L1186.8,1239.4 L1187.3,1239.5 L1187.9,1245.5 L1188.4,1247.7 L1189.0,1245.7 L1189.5,1233.7 L1190.1,1242.5 L1190.6,1242.1 L1191.2,1244.9 L1191.7,1237.4 L1192.3,1236.6 L1192.8,1241.9 L1193.4,1237.7 L1193.9,1236.8 L1194.5,1242.5 L1195.0,1248.2 L1195.6,1243.8 L1196.1,1249.4 L1196.7,1237.7 L1197.2,1247.3 L1197.8,1243.3 L1198.3,1238.6 L1198.9,1241.3 L1199.4,1238.9 L1200.0,1242.6 L1200.5,1239.7 L1201.1,1250.9 L1201.6,1242.0 L1202.2,1236.2 L1202.7,1243.1 L1203.3,1246.4 L1203.8,1242.6 L1204.4,1249.3 L1204.9,1239.6 L1205.5,1240.0 L1206.0,1253.7 L1206.6,1244.9 L1207.1,1247.9 L1207.7,1247.8 L1208.2,1248.3 L1208.8,1245.5 L1209.3,1244.3 L1209.9,1251.4 L1210.4,1242.8 L1210.9,1246.2 L1211.5,1249.4 L1212.0,1243.6 L1212.6,1237.5 L1213.1,1248.5 L1213.7,1252.0 L1214.2,1247.6 L1214.8,1237.2 L1215.3,1249.8 L1215.9,1257.1 L1216.4,1238.2 L1217.0,1232.0 L1217.5,1245.4 L1218.1,1247.3 L1218.6,1251.2 L1219.2,1251.4 L1219.7,1247.6 L1220.3,1250.1 L1220.8,1249.1 L1221.4,1248.1 L1221.9,1247.2 L1222.5,1246.8 L1223.0,1251.5 L1223.6,1250.0 L1224.1,1245.6 L1224.7,1253.8 L1225.2,1244.2 L1225.8,1246.9 L1226.3,1249.0 L1226.9,1238.2 L1227.4,1246.4 L1228.0,1253.1 L1228.5,1252.9 L1229.1,1242.4 L1229.6,1244.4 L1230.2,1243.2 L1230.7,1247.7 L1231.3,1248.7 L1231.8,1240.7 L1232.4,1250.9 L1232.9,1249.7 L1233.5,1249.0 L1234.0,1246.0 L1234.6,1248.6 L1235.1,1240.3 L1235.7,1250.8 L1236.2,1250.6 L1236.8,1248.9 L1237.3,1243.2 L1237.9,1255.9 L1238.4,1255.1 L1238.9,1239.3 L1239.5,1251.2 L1240.0,1249.7 L1240.6,1235.4 L1241.1,1251.4 L1241.7,1252.0 L1242.2,1252.3 L1242.8,1249.3 L1243.3,1245.0 L1243.9,1245.6 L1244.4,1250.8 L1245.0,1254.2 L1245.5,1245.5 L1246.1,1246.5 L1246.6,1251.4 L1247.2,1236.6 L1247.7,1250.0 L1248.3,1246.4 L1248.8,1236.2 L1249.4,1251.5 L1249.9,1242.8 L1250.5,1251.6 L1251.0,1254.6 L1251.6,1241.1 L1252.1,1241.4 L1252.7,1247.5 L1253.2,1238.6 L1253.8,1251.3 L1254.3,1248.5 L1254.9,1252.6 L1255.4,1238.2 L1256.0,1248.6 L1256.5,1249.9 L1257.1,1238.4 L1257.6,1252.1 L1258.2,1240.5 L1258.7,1248.5 L1259.3,1240.9 L1259.8,1251.6 L1260.4,1256.2 L1260.9,1247.9 L1261.5,1247.8 L1262.0,1254.2 L1262.6,1245.4 L1263.1,1247.9 L1263.7,1251.8 L1264.2,1249.8 L1264.8,1255.6 L1265.3,1253.7 L1265.8,1257.4 L1266.4,1247.7 L1266.9,1253.4" stroke="#ff0000"/>
<path d="M168.3,1361.0 L168.8,1322.1 L169.4,1347.1 L169.9,1338.7 L170.5,1339.5 L171.0,1341.4 L171.6,1326.2 L172.1,1341.1 L172.7,1335.6 L173.2,1366.3 L173.8,1344.6 L174.3,1339.5 L174.9,1339.4 L175.4,1335.6 L176.0,1331.7 L176.5,1336.6 L177.1,1343.2 L177.6,1336.6 L178.2,1345.9 L178.7,1335.6 L179.3,1336.9 L179.8,1348.8 L180.4,1339.9 L180.9,1330.6 L181.5,1332.8 L182.0,1338.8 L182.6,1350.4 L183.1,1332.3 L183.7,1332.5 L184.2,1342.9 L184.8,1327.3 L185.3,1332.3 L185.9,1342.0 L186.4,1339.6 L187.0,1335.6 L187.5,1340.4 L188.1,1312.0 L188.6,1343.2 L189.2,1326.7 L189.7,1320.6 L190.3,1336.1 L190.8,1339.3 L191.4,1329.6 L191.9,1324.1 L192.5,1332.8 L193.0,1331.8 L193.6,1343.3 L194.1,1337.6 L194.7,1332.6 L195.2,1339.1 L195.8,1327.6 L196.3,1320.9 L196.8,1332.2 L197.4,1331.3 L197.9,1324.0 L198.5,1318.6 L199.0,1325.9 L199.6,1303.1 L200.1,1327.8 L200.7,1325.3 L201.2,1307.4 L201.8,1320.7 L202.3,1312.7 L202.9,1326.6 L203.4,1304.5 L204.0,1313.7 L204.5,1326.8 L205.1,1330.6 L205.6,1304.3 L206.2,1317.8 L206.7,1324.5 L207.3,1317.3 L207.8,1334.9 L208.4,1313.0 L208.9,1325.5 L209.5,1314.6 L210.0,1333.8 L210.6,1321.6 L211.1,1318.0 L211.7,1306.5 L212.2,1332.5 L212.8,1324.3 L213.3,1323.5 L213.9,1325.6 L214.4,1318.6 L215.0,1310.0 L215.5,1307.9 L216.1,1307.0 L216.6,1323.2 L217.2,1299.4 L217.7,1303.7 L218.3,1303.4 L218.8,1305.1 L219.4,1305.0 L219.9,1290.9 L220.5,1286.5 L221.0,1291.6 L221.6,1291.5 L222.1,1286.0 L222.7,1281.2 L223.2,1275.9 L223.7,1272.5 L224.3,1267.3 L224.8,1264.3 L225.4,1255.7 L225.9,1249.4 L226.5,1241.8 L227.0,1235.0 L227.6,1225.2 L228.1,1216.3 L228.7,1204.0 L229.2,1192.7 L229.8,1182.7 L230.3,1178.5 L230.9,1172.4 L231.4,1167.6 L232.0,1158.9 L232.5,1176.0 L233.1,1190.2 L233.6,1202.6 L234.2,1219.4 L234.7,1236.1 L235.3,1253.4 L235.8,1270.5 L236.4,1281.2 L236.9,1284.0 L237.5,1291.1 L238.0,1295.4 L238.6,1302.5 L239.1,1301.5 L239.7,1307.8 L240.2,1293.3 L240.8,1301.0 L241.3,1296.7 L241.9,1319.4 L242.4,1313.2 L243.0,1305.9 L243.5,1305.0 L244.1,1313.8 L244.6,1303.4 L245.2,1301.6 L245.7,1314.8 L246.3,1333.1 L246.8,1308.8 L247.4,1306.3 L247.9,1301.0 L248.5,1299.9 L249.0,1317.1 L249.6,1320.4 L250.1,1313.1 L250.7,1315.8 L251.2,1313.5 L251.7,1313.5 L252.3,1298.1 L252.8,1307.6 L253.4,1312.5 L253.9,1304.1 L254.5,1306.4 L255.0,1302.7 L255.6,1306.6 L256.1,1316.8 L256.7,1304.8 L257.2,1306.6 L257.8,1314.8 L258.3,1312.7 L258.9,1321.7 L259.4,1286.7 L260.0,1313.0 L260.5,1300.3 L261.1,1305.3 L261.6,1311.2 L262.2,1312.9 L262.7,1311.9 L263.3,1303.8 L263.8,1317.5 L264.4,1300.7 L264.9,1302.4 L265.5,1311.3 L266.0,1299.5 L266.6,1324.6 L267.1,1314.6 L267.7,1325.5 L268.2,1305.9 L268.8,1303.1 L269.3,1308.5 L269.9,1314.1 L270.4,1302.5 L271.0,1311.7 L271.5,1308.5 L272.1,1323.7 L272.6,1302.7 L273.2,1317.9 L273.7,1302.3 L274.3,1299.1 L274.8,1301.1 L275.4,1296.5 L275.9,1308.4 L276.5,1316.1 L277.0,1308.0 L277.6,1311.9 L278.1,1320.8 L278.6,1308.1 L279.2,1307.1 L279.7,1302.6 L280.3,1290.2 L280.8,1311.4 L281.4,1288.3 L281.9,1309.9 L282.5,1303.6 L283.0,1313.7 L283.6,1302.5 L284.1,1295.4 L284.7,1305.8 L285.2,1297.2 L285.8,1300.4 L286.3,1302.1 L286.9,1300.2 L287.4,1299.5 L288.0,1293.3 L288.5,1298.9 L289.1,1280.9 L289.6,1298.7 L290.2,1288.8 L290.7,1309.5 L291.3,1310.5 L291.8,1280.7 L292.4,1299.4 L292.9,1296.5 L293.5,1287.7 L294.0,1301.7 L294.6,1292.2 L295.1,1280.0 L295.7,1293.2 L296.2,1293.9 L296.8,1295.8 L297.3,1283.2 L297.9,1299.6 L298.4,1300.3 L299.0,1282.8 L299.5,1286.8 L300.1,1291.6 L300.6,1286.8 L301.2,1307.4 L301.7,1293.0 L302.3,1281.5 L302.8,1283.1 L303.4,1289.3 L303.9,1310.4 L304.5,1287.4 L305.0,1289.8 L305.6,1292.9 L306.1,1287.4 L306.6,1308.1 L307.2,1282.1 L307.7,1293.4 L308.3,1287.9 L308.8,1292.0 L309.4,1275.5 L309.9,1302.1 L310.5,1284.8 L311.0,1286.1 L311.6,1277.1 L312.1,1278.8 L312.7,1290.5 L313.2,1294.2 L313.8,1291.9 L314.3,1295.9 L314.9,1291.3 L315.4,1284.9 L316.0,1292.1 L316.5,1289.7 L317.1,1283.2 L317.6,1290.4 L318.2,1295.3 L318.7,1285.4 L319.3,1279.8 L319.8,1289.3 L320.4,1299.8 L320.9,1280.3 L321.5,1281.1 L322.0,1280.4 L322.6,1292.5 L323.1,1264.4 L323.7,1284.1 L324.2,1291.4 L324.8,1272.9 L325.3,1293.5 L325.9,1284.8 L326.4,1275.2 L327.0,1282.3 L327.5,1266.8 L328.1,1275.8 L328.6,1297.9 L329.2,1273.4 L329.7,1298.6 L330.3,1281.4 L330.8,1291.4 L331.4,1283.1 L331.9,1262.5 L332.5,1278.0 L333.0,1285.2 L333.5,1273.3 L334.1,1271.8 L334.6,1287.6 L335.2,1277.9 L335.7,1268.0 L336.3,1276.8 L336.8,1290.5 L337.4,1277.9 L337.9,1290.3 L338.5,1295.3 L339.0,1281.3 L339.6,1270.3 L340.1,1268.3 L340.7,1279.5 L341.2,1287.4 L341.8,1281.4 L342.3,1283.5 L342.9,1274.1 L343.4,1280.5 L344.0,1273.4 L344.5,1274.9 L345.1,1266.2 L345.6,1263.8 L346.2,1273.9 L346.7,1268.3 L347.3,1269.8 L347.8,1284.8 L348.4,1277.8 L348.9,1304.4 L349.5,1287.5 L350.0,1273.4 L350.6,1286.4 L351.1,1282.7 L351.7,1273.4 L352.2,1289.8 L352.8,1272.9 L353.3,1254.9 L353.9,1288.1 L354.4,1275.6 L355.0,1295.2 L355.5,1276.2 L356.1,1271.7 L356.6,1297.0 L357.2,1273.5 L357.7,1285.6 L358.3,1297.3 L358.8,1285.6 L359.4,1284.2 L359.9,1286.3 L360.5,1293.4 L361.0,1278.9 L361.5,1292.2 L362.1,1292.0 L362.6,1308.1 L363.2,1284.0 L363.7,1278.8 L364.3,1294.0 L364.8,1283.8 L365.4,1290.2 L365.9,1288.9 L366.5,1298.5 L367.0,1282.0 L367.6,1287.3 L368.1,1265.0 L368.7,1280.3 L369.2,1302.5 L369.8,1282.4 L370.3,1282.4 L370.9,1277.6 L371.4,1293.8 L372.0,1290.0 L372.5,1277.5 L373.1,1294.2 L373.6,1290.4 L374.2,1294.7 L374.7,1281.9 L375.3,1303.4 L375.8,1291.2 L376.4,1286.3 L376.9,1282.5 L377.5,1284.8 L378.0,1294.8 L378.6,1284.4 L379.1,1296.5 L379.7,1291.8 L380.2,1298.6 L380.8,1293.7 L381.3,1285.5 L381.9,1268.6 L382.4,1288.5 L383.0,1292.9 L383.5,1287.0 L384.1,1290.5 L384.6,1281.0 L385.2,1281.7 L385.7,1276.4 L386.3,1297.2 L386.8,1286.1 L387.4,1280.1 L387.9,1272.3 L388.4,1282.9 L389.0,1297.4 L389.5,1288.5 L390.1,1277.7 L390.6,1297.3 L391.2,1297.3 L391.7,1293.2 L392.3,1291.5 L392.8,1294.8 L393.4,1289.2 L393.9,1291.4 L394.5,1277.2 L395.0,1297.9 L395.6,1286.4 L396.1,1302.7 L396.7,1265.7 L397.2,1290.7 L397.8,1293.1 L398.3,1280.9 L398.9,1288.0 L399.4,1290.6 L400.0,1288.9 L400.5,1278.6 L401.1,1282.1 L401.6,1292.5 L402.2,1294.7 L402.7,1283.9 L403.3,1283.5 L403.8,1284.5 L404.4,1292.0 L404.9,1272.8 L405.5,1270.2 L406.0,1283.3 L406.6,1272.2 L407.1,1277.2 L407.7,1283.6 L408.2,1287.5 L408.8,1273.6 L409.3,1291.0 L409.9,1267.8 L410.4,1289.2 L411.0,1270.1 L411.5,1273.2 L412.1,1290.9 L412.6,1281.6 L413.2,1278.3 L413.7,1281.8 L414.3,1290.4 L414.8,1285.9 L415.4,1286.4 L415.9,1296.7 L416.4,1281.0 L417.0,1283.6 L417.5,1283.6 L418.1,1299.4 L418.6,1298.2 L419.2,1301.3 L419.7,1289.7 L420.3,1289.0 L420.8,1298.6 L421.4,1287.6 L421.9,1299.2 L422.5,1298.6 L423.0,1286.1 L423.6,1292.1 L424.1,1292.2 L424.7,1309.3 L425.2,1317.4 L425.8,1293.2 L426.3,1294.5 L426.9,1273.9 L427.4,1296.8 L428.0,1295.1 L428.5,1285.7 L429.1,1302.9 L429.6,1281.7 L430.2,1294.3 L430.7,1297.8 L431.3,1285.4 L431.8,1304.9 L432.4,1306.9 L432.9,1285.0 L433.5,1285.0 L434.0,1303.4 L434.6,1297.8 L435.1,1287.2 L435.7,1295.7 L436.2,1297.5 L436.8,1297.3 L437.3,1306.3 L437.9,1302.4 L438.4,1315.2 L439.0,1311.7 L439.5,1305.5 L440.1,1309.3 L440.6,1311.7 L441.2,1306.2 L441.7,1288.8 L442.3,1307.9 L442.8,1300.9 L443.3,1315.1 L443.9,1301.4 L444.4,1305.5 L445.0,1303.9 L445.5,1316.3 L446.1,1302.8 L446.6,1298.9 L447.2,1304.3 L447.7,1297.6 L448.3,1303.3 L448.8,1301.9 L449.4,1304.6 L449.9,1319.8 L450.5,1298.8 L451.0,1303.1 L451.6,1301.1 L452.1,1309.3 L452.7,1292.6 L453.2,1297.3 L453.8,1303.5 L454.3,1309.0 L454.9,1303.9 L455.4,1300.0 L456.0,1296.8 L456.5,1309.6 L457.1,1318.3 L457.6,1308.3 L458.2,1307.3 L458.7,1309.9 L459.3,1297.5 L459.8,1303.1 L460.4,1303.3 L460.9,1308.2 L461.5,1305.0 L462.0,1294.0 L462.6,1315.1 L463.1,1320.0 L463.7,1302.0 L464.2,1307.8 L464.8,1306.4 L465.3,1310.9 L465.9,1290.0 L466.4,1318.0 L467.0,1298.8 L467.5,1314.3 L468.1,1303.4 L468.6,1298.9 L469.2,1300.9 L469.7,1309.6 L470.3,1292.9 L470.8,1296.7 L471.3,1295.0 L471.9,1283.1 L472.4,1309.9 L473.0,1302.6 L473.5,1296.5 L474.1,1306.6 L474.6,1286.6 L475.2,1294.0 L475.7,1309.6 L476.3,1302.2 L476.8,1272.3 L477.4,1265.6 L477.9,1280.0 L478.5,1297.5 L479.0,1281.9 L479.6,1282.6 L480.1,1288.5 L480.7,1273.3 L481.2,1281.7 L481.8,1285.3 L482.3,1280.8 L482.9,1278.4 L483.4,1267.5 L484.0,1275.9 L484.5,1265.5 L485.1,1279.5 L485.6,1289.2 L486.2,1257.3 L486.7,1242.5 L487.3,1258.8 L487.8,1266.9 L488.4,1273.8 L488.9,1274.9 L489.5,1258.8 L490.0,1259.6 L490.6,1279.5 L491.1,1260.7 L491.7,1283.0 L492.2,1273.6 L492.8,1285.1 L493.3,1287.1 L493.9,1290.3 L494.4,1293.2 L495.0,1279.4 L495.5,1293.5 L496.1,1293.5 L496.6,1297.5 L497.2,1306.3 L497.7,1293.1 L498.2,1289.5 L498.8,1289.8 L499.3,1294.0 L499.9,1304.0 L500.4,1290.3 L501.0,1308.5 L501.5,1301.1 L502.1,1296.8 L502.6,1287.3 L503.2,1301.9 L503.7,1306.3 L504.3,1284.6 L504.8,1311.4 L505.4,1315.8 L505.9,1304.3 L506.5,1306.0 L507.0,1323.5 L507.6,1313.1 L508.1,1294.3 L508.7,1302.5 L509.2,1301.5 L509.8,1301.8 L510.3,1282.3 L510.9,1310.5 L511.4,1298.3 L512.0,1305.9 L512.5,1304.1 L513.1,1313.9 L513.6,1304.3 L514.2,1300.6 L514.7,1313.3 L515.3,1321.9 L515.8,1307.1 L516.4,1321.8 L516.9,1311.5 L517.5,1304.1 L518.0,1322.1 L518.6,1300.8 L519.1,1316.8 L519.7,1302.9 L520.2,1311.0 L520.8,1295.6 L521.3,1298.8 L521.9,1315.1 L522.4,1306.6 L523.0,1304.6 L523.5,1299.7 L524.1,1306.9 L524.6,1289.8 L525.2,1291.6 L525.7,1299.5 L526.2,1292.8 L526.8,1293.3 L527.3,1298.2 L527.9,1296.9 L528.4,1295.5 L529.0,1311.6 L529.5,1304.9 L530.1,1305.7 L530.6,1293.5 L531.2,1288.1 L531.7,1278.6 L532.3,1287.3 L532.8,1270.8 L533.4,1283.0 L533.9,1293.8 L534.5,1300.3 L535.0,1293.4 L535.6,1276.1 L536.1,1287.0 L536.7,1274.6 L537.2,1287.6 L537.8,1278.0 L538.3,1285.2 L538.9,1298.9 L539.4,1283.0 L540.0,1294.1 L540.5,1273.7 L541.1,1267.9 L541.6,1281.2 L542.2,1283.2 L542.7,1261.8 L543.3,1266.0 L543.8,1251.3 L544.4,1260.8 L544.9,1269.1 L545.5,1259.4 L546.0,1254.1 L546.6,1245.6 L547.1,1260.1 L547.7,1262.8 L548.2,1259.9 L548.8,1255.8 L549.3,1241.2 L549.9,1266.8 L550.4,1249.7 L551.0,1247.8 L551.5,1254.4 L552.1,1227.9 L552.6,1245.2 L553.1,1243.2 L553.7,1246.3 L554.2,1253.4 L554.8,1244.4 L555.3,1222.9 L555.9,1234.6 L556.4,1238.0 L557.0,1236.1 L557.5,1222.3 L558.1,1217.6 L558.6,1235.5 L559.2,1232.4 L559.7,1227.8 L560.3,1211.6 L560.8,1241.3 L561.4,1200.6 L561.9,1221.0 L562.5,1241.6 L563.0,1221.2 L563.6,1223.8 L564.1,1210.7 L564.7,1231.9 L565.2,1208.0 L565.8,1220.7 L566.3,1219.3 L566.9,1209.3 L567.4,1226.5 L568.0,1206.8 L568.5,1213.5 L569.1,1219.5 L569.6,1216.5 L570.2,1224.5 L570.7,1228.8 L571.3,1218.6 L571.8,1216.7 L572.4,1217.3 L572.9,1218.9 L573.5,1229.5 L574.0,1221.0 L574.6,1227.6 L575.1,1224.3 L575.7,1218.9 L576.2,1234.8 L576.8,1219.5 L577.3,1229.6 L577.9,1243.5 L578.4,1222.3 L579.0,1232.4 L579.5,1220.3 L580.1,1230.7 L580.6,1223.3 L581.1,1234.2 L581.7,1233.8 L582.2,1240.9 L582.8,1254.8 L583.3,1245.0 L583.9,1249.6 L584.4,1244.8 L585.0,1244.5 L585.5,1240.8 L586.1,1233.9 L586.6,1251.3 L587.2,1266.1 L587.7,1257.6 L588.3,1250.2 L588.8,1270.4 L589.4,1253.8 L589.9,1253.2 L590.5,1249.1 L591.0,1252.2 L591.6,1259.3 L592.1,1279.5 L592.7,1261.5 L593.2,1255.4 L593.8,1260.0 L594.3,1264.3 L594.9,1252.5 L595.4,1269.2 L596.0,1275.1 L596.5,1272.8 L597.1,1276.1 L597.6,1261.2 L598.2,1259.1 L598.7,1286.0 L599.3,1285.7 L599.8,1264.5 L600.4,1280.8 L600.9,1280.7 L601.5,1286.4 L602.0,1284.9 L602.6,1280.2 L603.1,1287.6 L603.7,1288.6 L604.2,1288.2 L604.8,1274.2 L605.3,1266.9 L605.9,1284.4 L606.4,1277.5 L607.0,1293.9 L607.5,1298.2 L608.0,1294.7 L608.6,1289.6 L609.1,1293.7 L609.7,1303.4 L610.2,1287.6 L610.8,1301.9 L611.3,1300.4 L611.9,1297.0 L612.4,1307.4 L613.0,1289.3 L613.5,1303.8 L614.1,1288.2 L614.6,1289.9 L615.2,1287.4 L615.7,1300.2 L616.3,1288.4 L616.8,1296.8 L617.4,1286.8 L617.9,1305.4 L618.5,1311.9 L619.0,1298.3 L619.6,1310.3 L620.1,1301.1 L620.7,1314.7 L621.2,1297.2 L621.8,1283.1 L622.3,1309.0 L622.9,1295.3 L623.4,1287.7 L624.0,1290.9 L624.5,1282.6 L625.1,1294.8 L625.6,1287.1 L626.2,1308.6 L626.7,1301.5 L627.3,1281.8 L627.8,1283.0 L628.4,1290.8 L628.9,1279.3 L629.5,1294.5 L630.0,1294.9 L630.6,1288.7 L631.1,1290.5 L631.7,1299.2 L632.2,1306.8 L632.8,1307.3 L633.3,1294.9 L633.9,1301.7 L634.4,1288.7 L635.0,1298.9 L635.5,1287.9 L636.0,1302.7 L636.6,1286.7 L637.1,1289.5 L637.7,1298.1 L638.2,1303.4 L638.8,1287.2 L639.3,1295.3 L639.9,1301.5 L640.4,1302.9 L641.0,1294.4 L641.5,1302.9 L642.1,1300.3 L642.6,1314.9 L643.2,1308.4 L643.7,1293.1 L644.3,1286.8 L644.8,1307.1 L645.4,1317.1 L645.9,1309.7 L646.5,1316.6 L647.0,1306.1 L647.6,1299.7 L648.1,1318.4 L648.7,1314.0 L649.2,1319.8 L649.8,1303.5 L650.3,1317.6 L650.9,1311.8 L651.4,1324.8 L652.0,1314.2 L652.5,1314.9 L653.1,1316.1 L653.6,1332.5 L654.2,1323.1 L654.7,1317.4 L655.3,1316.0 L655.8,1316.7 L656.4,1338.6 L656.9,1312.1 L657.5,1321.0 L658.0,1334.3 L658.6,1339.7 L659.1,1329.5 L659.7,1338.2 L660.2,1338.9 L660.8,1341.7 L661.3,1334.7 L661.9,1349.0 L662.4,1337.9 L662.9,1349.9 L663.5,1328.6 L664.0,1346.4 L664.6,1328.7 L665.1,1327.3 L665.7,1344.7 L666.2,1334.3 L666.8,1345.6 L667.3,1333.6 L667.9,1356.6 L668.4,1344.0 L669.0,1335.1 L669.5,1346.7 L670.1,1353.3 L670.6,1340.2 L671.2,1351.5 L671.7,1365.0 L672.3,1355.8 L672.8,1349.2 L673.4,1345.2 L673.9,1355.4 L674.5,1338.6 L675.0,1328.2 L675.6,1347.0 L676.1,1344.2 L676.7,1368.4 L677.2,1355.7 L677.8,1347.0 L678.3,1346.2 L678.9,1360.7 L679.4,1350.3 L680.0,1353.0 L680.5,1357.8 L681.1,1359.9 L681.6,1360.7 L682.2,1361.5 L682.7,1371.9 L683.3,1375.6 L683.8,1348.1 L684.4,1383.5 L684.9,1363.6 L685.5,1373.2 L686.0,1357.0 L686.6,1366.2 L687.1,1365.7 L687.7,1365.2 L688.2,1371.6 L688.8,1370.2 L689.3,1356.9 L689.9,1364.6 L690.4,1372.0 L690.9,1372.0 L691.5,1363.9 L692.0,1364.7 L692.6,1366.0 L693.1,1358.5 L693.7,1357.3 L694.2,1381.1 L694.8,1365.0 L695.3,1369.2 L695.9,1362.4 L696.4,1379.5 L697.0,1383.5 L697.5,1367.4 L698.1,1373.6 L698.6,1363.3 L699.2,1384.3 L699.7,1377.5 L700.3,1363.1 L700.8,1380.6 L701.4,1373.4 L701.9,1374.0 L702.5,1373.7 L703.0,1365.4 L703.6,1366.7 L704.1,1376.4 L704.7,1371.1 L705.2,1363.8 L705.8,1388.6 L706.3,1370.3 L706.9,1367.6 L707.4,1366.4 L708.0,1377.9 L708.5,1380.2 L709.1,1374.2 L709.6,1379.3 L710.2,1359.8 L710.7,1369.1 L711.3,1368.3 L711.8,1372.2 L712.4,1376.2 L712.9,1355.4 L713.5,1394.7 L714.0,1365.0 L714.6,1375.0 L715.1,1378.9 L715.7,1379.1 L716.2,1374.1 L716.8,1348.6 L717.3,1363.1 L717.8,1378.3 L718.4,1364.5 L718.9,1363.4 L719.5,1352.7 L720.0,1382.0 L720.6,1376.2 L721.1,1364.6 L721.7,1370.9 L722.2,1371.1 L722.8,1362.7 L723.3,1369.6 L723.9,1374.0 L724.4,1376.4 L725.0,1382.2 L725.5,1372.1 L726.1,1368.0 L726.6,1375.1 L727.2,1366.6 L727.7,1361.5 L728.3,1381.2 L728.8,1368.7 L729.4,1372.8 L729.9,1377.1 L730.5,1362.7 L731.0,1377.0 L731.6,1375.4 L732.1,1371.0 L732.7,1375.0 L733.2,1365.6 L733.8,1353.7 L734.3,1369.7 L734.9,1364.9 L735.4,1379.7 L736.0,1375.1 L736.5,1368.8 L737.1,1373.8 L737.6,1384.8 L738.2,1383.3 L738.7,1377.3 L739.3,1378.1 L739.8,1372.5 L740.4,1374.0 L740.9,1380.2 L741.5,1374.7 L742.0,1378.4 L742.6,1367.1 L743.1,1362.8 L743.7,1362.9 L744.2,1373.5 L744.8,1388.1 L745.3,1387.2 L745.8,1369.7 L746.4,1365.4 L746.9,1384.9 L747.5,1382.4 L748.0,1367.6 L748.6,1387.6 L749.1,1380.6 L749.7,1390.1 L750.2,1382.3 L750.8,1387.0 L751.3,1382.5 L751.9,1372.3 L752.4,1378.3 L753.0,1374.9 L753.5,1387.4 L754.1,1372.7 L754.6,1368.5 L755.2,1386.7 L755.7,1390.6 L756.3,1393.3 L756.8,1390.6 L757.4,1369.6 L757.9,1376.4 L758.5,1377.7 L759.0,1382.2 L759.6,1365.1 L760.1,1382.7 L760.7,1385.2 L761.2,1375.3 L761.8,1384.1 L762.3,1392.9 L762.9,1383.7 L763.4,1392.0 L764.0,1391.7 L764.5,1386.9 L765.1,1386.8 L765.6,1380.7 L766.2,1393.9 L766.7,1380.1 L767.3,1378.4 L767.8,1389.9 L768.4,1378.3 L768.9,1387.8 L769.5,1393.0 L770.0,1385.2 L770.6,1385.5 L771.1,1392.1 L771.7,1390.9 L772.2,1372.4 L772.7,1374.4 L773.3,1395.9 L773.8,1388.3 L774.4,1368.3 L774.9,1374.1 L775.5,1385.2 L776.0,1377.0 L776.6,1388.6 L777.1,1385.3 L777.7,1388.6 L778.2,1375.1 L778.8,1389.5 L779.3,1400.2 L779.9,1377.8 L780.4,1394.8 L781.0,1392.0 L781.5,1389.2 L782.1,1383.4 L782.6,1374.4 L783.2,1376.6 L783.7,1389.8 L784.3,1391.4 L784.8,1393.3 L785.4,1391.1 L785.9,1390.5 L786.5,1379.7 L787.0,1373.3 L787.6,1384.6 L788.1,1386.8 L788.7,1383.3 L789.2,1370.2 L789.8,1378.1 L790.3,1370.2 L790.9,1383.1 L791.4,1373.3 L792.0,1380.2 L792.5,1383.9 L793.1,1382.3 L793.6,1392.0 L794.2,1371.9 L794.7,1363.1 L795.3,1388.1 L795.8,1391.6 L796.4,1391.6 L796.9,1382.2 L797.5,1384.1 L798.0,1380.6 L798.6,1369.0 L799.1,1374.6 L799.7,1383.0 L800.2,1374.2 L800.7,1394.0 L801.3,1366.3 L801.8,1375.2 L802.4,1387.6 L802.9,1373.8 L803.5,1369.6 L804.0,1367.7 L804.6,1372.8 L805.1,1390.8 L805.7,1381.9 L806.2,1382.8 L806.8,1374.5 L807.3,1385.4 L807.9,1379.5 L808.4,1371.3 L809.0,1375.0 L809.5,1380.3 L810.1,1388.0 L810.6,1378.2 L811.2,1382.7 L811.7,1394.8 L812.3,1372.3 L812.8,1368.7 L813.4,1386.5 L813.9,1382.2 L814.5,1377.9 L815.0,1380.9 L815.6,1376.2 L816.1,1383.1 L816.7,1376.4 L817.2,1385.5 L817.8,1369.9 L818.3,1372.8 L818.9,1380.4 L819.4,1375.8 L820.0,1385.2 L820.5,1379.4 L821.1,1375.5 L821.6,1381.6 L822.2,1375.8 L822.7,1367.6 L823.3,1371.1 L823.8,1373.9 L824.4,1376.6 L824.9,1381.2 L825.5,1387.8 L826.0,1385.0 L826.6,1394.9 L827.1,1391.0 L827.6,1379.4 L828.2,1394.1 L828.7,1390.4 L829.3,1377.3 L829.8,1383.4 L830.4,1389.7 L830.9,1382.9 L831.5,1389.0 L832.0,1384.1 L832.6,1386.6 L833.1,1378.4 L833.7,1384.0 L834.2,1378.1 L834.8,1386.3 L835.3,1367.5 L835.9,1383.6 L836.4,1390.9 L837.0,1385.6 L837.5,1380.8 L838.1,1385.3 L838.6,1374.3 L839.2,1374.4 L839.7,1378.1 L840.3,1379.8 L840.8,1388.6 L841.4,1373.9 L841.9,1388.9 L842.5,1368.5 L843.0,1374.7 L843.6,1380.7 L844.1,1390.2 L844.7,1376.1 L845.2,1364.0 L845.8,1384.3 L846.3,1380.7 L846.9,1372.4 L847.4,1372.7 L848.0,1375.5 L848.5,1381.7 L849.1,1386.2 L849.6,1369.3 L850.2,1399.1 L850.7,1380.7 L851.3,1378.0 L851.8,1386.3 L852.4,1381.8 L852.9,1399.4 L853.5,1389.6 L854.0,1378.0 L854.6,1377.9 L855.1,1376.8 L855.6,1377.7 L856.2,1385.5 L856.7,1374.8 L857.3,1392.3 L857.8,1378.7 L858.4,1377.9 L858.9,1386.3 L859.5,1362.9 L860.0,1370.8 L860.6,1382.7 L861.1,1377.8 L861.7,1377.3 L862.2,1380.3 L862.8,1372.1 L863.3,1375.2 L863.9,1365.6 L864.4,1361.2 L865.0,1385.7 L865.5,1368.1 L866.1,1369.5 L866.6,1385.9 L867.2,1383.0 L867.7,1370.2 L868.3,1370.0 L868.8,1373.4 L869.4,1366.5 L869.9,1378.2 L870.5,1374.9 L871.0,1374.7 L871.6,1379.5 L872.1,1379.2 L872.7,1387.9 L873.2,1385.2 L873.8,1359.8 L874.3,1380.2 L874.9,1364.2 L875.4,1361.7 L876.0,1378.4 L876.5,1367.2 L877.1,1370.2 L877.6,1381.0 L878.2,1367.3 L878.7,1365.4 L879.3,1374.8 L879.8,1381.8 L880.4,1376.2 L880.9,1359.8 L881.5,1366.8 L882.0,1371.5 L882.5,1388.6 L883.1,1381.3 L883.6,1381.8 L884.2,1385.4 L884.7,1374.4 L885.3,1381.4 L885.8,1382.3 L886.4,1371.7 L886.9,1380.0 L887.5,1385.4 L888.0,1373.4 L888.6,1389.0 L889.1,1389.4 L889.7,1392.4 L890.2,1379.1 L890.8,1386.6 L891.3,1397.7 L891.9,1393.1 L892.4,1381.2 L893.0,1389.7 L893.5,1399.6 L894.1,1388.4 L894.6,1392.6 L895.2,1410.2 L895.7,1390.4 L896.3,1390.4 L896.8,1383.9 L897.4,1387.1 L897.9,1404.4 L898.5,1392.3 L899.0,1384.6 L899.6,1387.1 L900.1,1394.9 L900.7,1401.3 L901.2,1390.0 L901.8,1401.8 L902.3,1392.9 L902.9,1399.9 L903.4,1401.6 L904.0,1402.7 L904.5,1395.1 L905.1,1397.6 L905.6,1403.3 L906.2,1389.8 L906.7,1401.6 L907.3,1404.6 L907.8,1409.2 L908.4,1401.3 L908.9,1400.6 L909.5,1403.6 L910.0,1397.3 L910.5,1401.8 L911.1,1406.9 L911.6,1406.4 L912.2,1396.8 L912.7,1402.7 L913.3,1389.4 L913.8,1411.8 L914.4,1402.0 L914.9,1408.1 L915.5,1398.2 L916.0,1406.2 L916.6,1410.4 L917.1,1414.7 L917.7,1397.4 L918.2,1414.2 L918.8,1406.9 L919.3,1402.6 L919.9,1412.3 L920.4,1406.8 L921.0,1407.0 L921.5,1404.3 L922.1,1411.4 L922.6,1410.3 L923.2,1409.0 L923.7,1403.5 L924.3,1407.1 L924.8,1414.1 L925.4,1420.9 L925.9,1411.5 L926.5,1422.3 L927.0,1411.9 L927.6,1404.1 L928.1,1416.8 L928.7,1405.2 L929.2,1415.3 L929.8,1420.3 L930.3,1410.3 L930.9,1412.0 L931.4,1430.7 L932.0,1414.5 L932.5,1414.8 L933.1,1418.7 L933.6,1412.4 L934.2,1412.5 L934.7,1416.0 L935.3,1396.0 L935.8,1423.7 L936.4,1405.8 L936.9,1405.8 L937.4,1417.6 L938.0,1414.0 L938.5,1404.9 L939.1,1415.5 L939.6,1405.9 L940.2,1409.3 L940.7,1403.7 L941.3,1408.7 L941.8,1417.6 L942.4,1415.8 L942.9,1417.3 L943.5,1421.9 L944.0,1415.2 L944.6,1411.0 L945.1,1413.9 L945.7,1427.7 L946.2,1416.5 L946.8,1418.6 L947.3,1415.9 L947.9,1418.5 L948.4,1420.0 L949.0,1417.1 L949.5,1416.2 L950.1,1412.0 L950.6,1411.8 L951.2,1420.7 L951.7,1423.2 L952.3,1424.6 L952.8,1418.8 L953.4,1412.9 L953.9,1423.4 L954.5,1423.7 L955.0,1409.4 L955.6,1425.7 L956.1,1424.5 L956.7,1432.3 L957.2,1413.5 L957.8,1412.8 L958.3,1427.4 L958.9,1410.0 L959.4,1417.7 L960.0,1415.6 L960.5,1416.5 L961.1,1410.8 L961.6,1422.6 L962.2,1431.2 L962.7,1427.9 L963.3,1428.3 L963.8,1423.3 L964.4,1435.8 L964.9,1430.0 L965.4,1433.9 L966.0,1416.7 L966.5,1429.9 L967.1,1420.2 L967.6,1430.5 L968.2,1429.8 L968.7,1421.3 L969.3,1430.3 L969.8,1437.2 L970.4,1433.1 L970.9,1434.1 L971.5,1424.7 L972.0,1426.3 L972.6,1423.7 L973.1,1432.3 L973.7,1439.6 L974.2,1434.9 L974.8,1432.3 L975.3,1425.2 L975.9,1435.8 L976.4,1431.6 L977.0,1420.9 L977.5,1422.4 L978.1,1431.8 L978.6,1428.4 L979.2,1445.3 L979.7,1435.0 L980.3,1428.3 L980.8,1432.2 L981.4,1446.0 L981.9,1429.8 L982.5,1441.2 L983.0,1439.3 L983.6,1446.2 L984.1,1440.4 L984.7,1434.7 L985.2,1441.0 L985.8,1438.3 L986.3,1444.4 L986.9,1438.0 L987.4,1451.3 L988.0,1438.3 L988.5,1442.0 L989.1,1435.3 L989.6,1440.5 L990.2,1440.0 L990.7,1441.1 L991.3,1445.9 L991.8,1437.0 L992.3,1435.2 L992.9,1447.7 L993.4,1439.1 L994.0,1436.9 L994.5,1448.5 L995.1,1446.4 L995.6,1425.1 L996.2,1439.5 L996.7,1446.9 L997.3,1447.4 L997.8,1439.2 L998.4,1452.3 L998.9,1437.9 L999.5,1441.5 L1000.0,1443.9 L1000.6,1443.3 L1001.1,1448.5 L1001.7,1450.0 L1002.2,1443.6 L1002.8,1452.7 L1003.3,1439.9 L1003.9,1442.7 L1004.4,1454.4 L1005.0,1444.3 L1005.5,1450.2 L1006.1,1440.9 L1006.6,1441.8 L1007.2,1442.7 L1007.7,1444.3 L1008.3,1441.1 L1008.8,1443.1 L1009.4,1447.0 L1009.9,1450.1 L1010.5,1443.3 L1011.0,1446.5 L1011.6,1448.0 L1012.1,1435.9 L1012.7,1432.8 L1013.2,1451.8 L1013.8,1449.9 L1014.3,1442.3 L1014.9,1443.9 L1015.4,1435.6 L1016.0,1432.6 L1016.5,1439.5 L1017.1,1431.0 L1017.6,1438.5 L1018.2,1432.2 L1018.7,1433.5 L1019.3,1433.9 L1019.8,1429.4 L1020.3,1420.7 L1020.9,1419.0 L1021.4,1410.4 L1022.0,1408.6 L1022.5,1407.9 L1023.1,1407.4 L1023.6,1400.9 L1024.2,1400.6 L1024.7,1398.7 L1025.3,1397.1 L1025.8,1400.5 L1026.4,1404.8 L1026.9,1402.7 L1027.5,1407.6 L1028.0,1412.3 L1028.6,1413.3 L1029.1,1421.3 L1029.7,1424.8 L1030.2,1427.9 L1030.8,1430.4 L1031.3,1427.9 L1031.9,1429.8 L1032.4,1431.1 L1033.0,1432.7 L1033.5,1435.4 L1034.1,1447.4 L1034.6,1450.1 L1035.2,1438.1 L1035.7,1446.4 L1036.3,1434.5 L1036.8,1439.9 L1037.4,1436.0 L1037.9,1432.4 L1038.5,1442.0 L1039.0,1442.2 L1039.6,1439.4 L1040.1,1438.7 L1040.7,1436.1 L1041.2,1440.9 L1041.8,1438.3 L1042.3,1443.1 L1042.9,1434.8 L1043.4,1443.0 L1044.0,1444.6 L1044.5,1448.8 L1045.1,1447.7 L1045.6,1442.8 L1046.2,1437.7 L1046.7,1431.0 L1047.2,1441.3 L1047.8,1449.3 L1048.3,1450.5 L1048.9,1426.4 L1049.4,1436.5 L1050.0,1438.6 L1050.5,1434.6 L1051.1,1441.4 L1051.6,1440.4 L1052.2,1437.1 L1052.7,1439.7 L1053.3,1430.7 L1053.8,1434.1 L1054.4,1434.4 L1054.9,1444.5 L1055.5,1430.0 L1056.0,1437.9 L1056.6,1443.4 L1057.1,1438.5 L1057.7,1443.3 L1058.2,1434.8 L1058.8,1440.9 L1059.3,1443.4 L1059.9,1450.9 L1060.4,1442.2 L1061.0,1446.2 L1061.5,1438.0 L1062.1,1438.5 L1062.6,1446.8 L1063.2,1441.2 L1063.7,1445.9 L1064.3,1441.8 L1064.8,1449.9 L1065.4,1451.3 L1065.9,1432.9 L1066.5,1448.2 L1067.0,1440.1 L1067.6,1440.3 L1068.1,1436.8 L1068.7,1441.6 L1069.2,1431.1 L1069.8,1433.2 L1070.3,1433.0 L1070.9,1439.0 L1071.4,1442.5 L1072.0,1441.5 L1072.5,1439.3 L1073.1,1433.8 L1073.6,1427.1 L1074.2,1439.4 L1074.7,1437.8 L1075.2,1438.8 L1075.8,1444.7 L1076.3,1435.2 L1076.9,1434.8 L1077.4,1422.5 L1078.0,1438.7 L1078.5,1435.0 L1079.1,1430.8 L1079.6,1436.9 L1080.2,1428.5 L1080.7,1431.1 L1081.3,1445.2 L1081.8,1438.0 L1082.4,1438.7 L1082.9,1437.5 L1083.5,1435.9 L1084.0,1432.3 L1084.6,1441.4 L1085.1,1428.8 L1085.7,1430.6 L1086.2,1426.4 L1086.8,1424.9 L1087.3,1417.6 L1087.9,1418.5 L1088.4,1430.1 L1089.0,1431.1 L1089.5,1426.5 L1090.1,1428.9 L1090.6,1432.0 L1091.2,1428.4 L1091.7,1437.6 L1092.3,1429.4 L1092.8,1430.5 L1093.4,1420.9 L1093.9,1442.9 L1094.5,1435.5 L1095.0,1444.8 L1095.6,1430.7 L1096.1,1438.8 L1096.7,1437.9 L1097.2,1439.1 L1097.8,1450.2 L1098.3,1451.8 L1098.9,1447.2 L1099.4,1437.4 L1100.0,1444.8 L1100.5,1447.5 L1101.1,1443.3 L1101.6,1443.6 L1102.1,1443.3 L1102.7,1435.7 L1103.2,1442.3 L1103.8,1450.0 L1104.3,1435.7 L1104.9,1441.9 L1105.4,1446.3 L1106.0,1434.2 L1106.5,1441.2 L1107.1,1432.7 L1107.6,1439.0 L1108.2,1434.7 L1108.7,1437.7 L1109.3,1440.2 L1109.8,1441.5 L1110.4,1442.1 L1110.9,1430.0 L1111.5,1452.4 L1112.0,1442.2 L1112.6,1437.9 L1113.1,1440.7 L1113.7,1446.2 L1114.2,1439.2 L1114.8,1442.7 L1115.3,1442.7 L1115.9,1448.5 L1116.4,1441.7 L1117.0,1448.6 L1117.5,1448.3 L1118.1,1445.8 L1118.6,1453.8 L1119.2,1447.3 L1119.7,1440.9 L1120.3,1449.4 L1120.8,1448.7 L1121.4,1448.1 L1121.9,1449.8 L1122.5,1461.8 L1123.0,1450.4 L1123.6,1451.9 L1124.1,1448.3 L1124.7,1457.2 L1125.2,1449.9 L1125.8,1446.0 L1126.3,1444.0 L1126.9,1453.9 L1127.4,1455.3 L1128.0,1442.5 L1128.5,1447.4 L1129.1,1455.1 L1129.6,1457.3 L1130.1,1444.4 L1130.7,1449.5 L1131.2,1456.5 L1131.8,1449.0 L1132.3,1449.6 L1132.9,1449.2 L1133.4,1445.0 L1134.0,1452.6 L1134.5,1454.1 L1135.1,1444.8 L1135.6,1453.2 L1136.2,1458.8 L1136.7,1453.9 L1137.3,1458.1 L1137.8,1449.9 L1138.4,1460.6 L1138.9,1448.8 L1139.5,1463.6 L1140.0,1450.9 L1140.6,1449.5 L1141.1,1448.6 L1141.7,1451.3 L1142.2,1450.9 L1142.8,1449.8 L1143.3,1451.8 L1143.9,1457.2 L1144.4,1458.4 L1145.0,1451.7 L1145.5,1460.4 L1146.1,1448.1 L1146.6,1447.9 L1147.2,1447.4 L1147.7,1456.9 L1148.3,1445.1 L1148.8,1445.9 L1149.4,1460.6 L1149.9,1463.0 L1150.5,1460.9 L1151.0,1445.4 L1151.6,1453.6 L1152.1,1458.1 L1152.7,1454.1 L1153.2,1444.7 L1153.8,1451.7 L1154.3,1444.3 L1154.9,1446.8 L1155.4,1465.3 L1156.0,1457.2 L1156.5,1445.2 L1157.0,1444.8 L1157.6,1455.3 L1158.1,1449.3 L1158.7,1455.5 L1159.2,1448.6 L1159.8,1450.8 L1160.3,1453.0 L1160.9,1445.8 L1161.4,1440.7 L1162.0,1444.5 L1162.5,1447.6 L1163.1,1449.8 L1163.6,1450.2 L1164.2,1450.0 L1164.7,1449.9 L1165.3,1444.4 L1165.8,1446.4 L1166.4,1444.9 L1166.9,1439.0 L1167.5,1436.4 L1168.0,1436.4 L1168.6,1433.0 L1169.1,1430.9 L1169.7,1432.3 L1170.2,1433.4 L1170.8,1434.7 L1171.3,1440.9 L1171.9,1444.5 L1172.4,1442.7 L1173.0,1447.3 L1173.5,1450.4 L1174.1,1449.4 L1174.6,1448.9 L1175.2,1449.9 L1175.7,1445.7 L1176.3,1451.0 L1176.8,1450.3 L1177.4,1459.9 L1177.9,1455.6 L1178.5,1450.8 L1179.0,1452.4 L1179.6,1459.3 L1180.1,1459.2 L1180.7,1453.9 L1181.2,1452.9 L1181.8,1448.0 L1182.3,1452.6 L1182.9,1453.5 L1183.4,1451.5 L1184.0,1461.4 L1184.5,1447.5 L1185.0,1454.6 L1185.6,1456.9 L1186.1,1457.3 L1186.7,1462.4 L1187.2,1450.5 L1187.8,1453.0 L1188.3,1456.2 L1188.9,1456.3 L1189.4,1454.2 L1190.0,1452.7 L1190.5,1459.9 L1191.1,1451.5 L1191.6,1453.3 L1192.2,1461.2 L1192.7,1462.3 L1193.3,1458.9 L1193.8,1452.1 L1194.4,1452.1 L1194.9,1451.8 L1195.5,1450.9 L1196.0,1453.7 L1196.6,1460.2 L1197.1,1456.1 L1197.7,1452.2 L1198.2,1452.1 L1198.8,1450.5 L1199.3,1459.7 L1199.9,1447.1 L1200.4,1456.0 L1201.0,1449.3 L1201.5,1450.7 L1202.1,1449.0 L1202.6,1458.5 L1203.2,1454.4 L1203.7,1465.4 L1204.3,1450.5 L1204.8,1450.2 L1205.4,1456.7 L1205.9,1456.5 L1206.5,1453.1 L1207.0,1446.2 L1207.6,1459.6 L1208.1,1456.1 L1208.7,1455.4 L1209.2,1451.4 L1209.8,1456.1 L1210.3,1451.3 L1210.9,1453.6 L1211.4,1452.6 L1211.9,1458.1 L1212.5,1451.3 L1213.0,1451.7 L1213.6,1457.3 L1214.1,1453.7 L1214.7,1452.7 L1215.2,1451.7 L1215.8,1456.3 L1216.3,1449.9 L1216.9,1454.2 L1217.4,1460.2 L1218.0,1453.7 L1218.5,1449.1 L1219.1,1447.4 L1219.6,1452.6 L1220.2,1447.2 L1220.7,1445.7 L1221.3,1448.9 L1221.8,1447.6 L1222.4,1455.2 L1222.9,1446.1 L1223.5,1457.9 L1224.0,1448.7 L1224.6,1452.1 L1225.1,1454.2 L1225.7,1452.4 L1226.2,1454.3 L1226.8,1447.5 L1227.3,1442.5 L1227.9,1450.5 L1228.4,1444.7 L1229.0,1448.9 L1229.5,1454.8 L1230.1,1450.3 L1230.6,1448.7 L1231.2,1446.6 L1231.7,1449.8 L1232.3,1450.2 L1232.8,1444.8 L1233.4,1452.2 L1233.9,1447.0 L1234.5,1452.1 L1235.0,1449.6 L1235.6,1455.3 L1236.1,1454.9 L1236.7,1451.7 L1237.2,1451.3 L1237.8,1453.5 L1238.3,1457.3 L1238.9,1456.2 L1239.4,1452.7 L1239.9,1453.5 L1240.5,1458.5 L1241.0,1446.1 L1241.6,1454.7 L1242.1,1449.1 L1242.7,1458.0 L1243.2,1450.9 L1243.8,1452.5 L1244.3,1448.8 L1244.9,1453.2 L1245.4,1456.4 L1246.0,1459.9 L1246.5,1448.5 L1247.1,1451.8 L1247.6,1464.7 L1248.2,1457.4 L1248.7,1453.8 L1249.3,1456.0 L1249.8,1443.6 L1250.4,1460.4 L1250.9,1454.8 L1251.5,1448.7 L1252.0,1458.9 L1252.6,1452.0 L1253.1,1450.5 L1253.7,1456.6 L1254.2,1456.2 L1254.8,1453.0 L1255.3,1454.5 L1255.9,1449.7 L1256.4,1449.3 L1257.0,1458.6 L1257.5,1460.3 L1258.1,1456.9 L1258.6,1456.8 L1259.2,1453.8 L1259.7,1455.0 L1260.3,1451.9 L1260.8,1462.5 L1261.4,1453.5 L1261.9,1457.4 L1262.5,1455.9 L1263.0,1450.5 L1263.6,1463.6 L1264.1,1454.6 L1264.7,1453.2 L1265.2,1456.7 L1265.8,1452.8 L1266.3,1456.5 L1266.8,1452.7" stroke="#3a0000"/>
</g>
<path d="M562.7,930.6 L734,781.3 M557.9,1161.5 L642.5,1062.5 M846,1380 L922.8,1311.1" stroke="#000" stroke-width="5.2" fill="none"/>
<g font-family="Liberation Sans, Arial, sans-serif" fill="#000">
<text transform="translate(167.5,1636.8) scale(1,1.03)" font-size="78" text-anchor="middle">20</text>
<text transform="translate(442.0,1636.8) scale(1,1.03)" font-size="78" text-anchor="middle">30</text>
<text transform="translate(716.5,1636.8) scale(1,1.03)" font-size="78" text-anchor="middle">40</text>
<text transform="translate(991.0,1636.8) scale(1,1.03)" font-size="78" text-anchor="middle">50</text>
<text transform="translate(1265.5,1636.8) scale(1,1.03)" font-size="78" text-anchor="middle">60</text>
<text x="516.5" y="1738.6" font-size="78" text-anchor="start" >2θ (degree)</text>
<text transform="translate(77.4,880.8) rotate(-90)" font-size="77">Intensity</text>
<text x="653.8" y="112.5" font-size="78" text-anchor="start" >tetragonal AgInS</text>
<text x="1225.4" y="131.6" font-size="55" text-anchor="start" >2</text>
<text x="734.5" y="295.6" font-size="78" text-anchor="start" >acanthite Ag</text>
<text x="1161.4" y="314.4" font-size="55" text-anchor="start" >2</text>
<text x="1192.3" y="295.6" font-size="78" text-anchor="start" >S</text>
<text x="990.8" y="441.6" font-size="78" text-anchor="start" >In(OH)</text>
<text x="1223.1" y="460.7" font-size="55" text-anchor="start" >3</text>
<text x="621.0" y="759.0" font-size="78" text-anchor="start" >AgInS</text>
<text x="832.0" y="778.3" font-size="55" text-anchor="start" >2</text>
<text x="886.5" y="759.0" font-size="78" text-anchor="start" >(dropwise)</text>
<text x="583.8" y="1054.2" font-size="78" text-anchor="start" >AgInS</text>
<text x="795.2" y="1073.0" font-size="55" text-anchor="start" >2</text>
<text x="849.2" y="1054.2" font-size="77.4" text-anchor="start" >(immediate)</text>
<text x="865.0" y="1310.7" font-size="78" text-anchor="start" >Precipitate</text>
</g>
</svg>
</body></html>
